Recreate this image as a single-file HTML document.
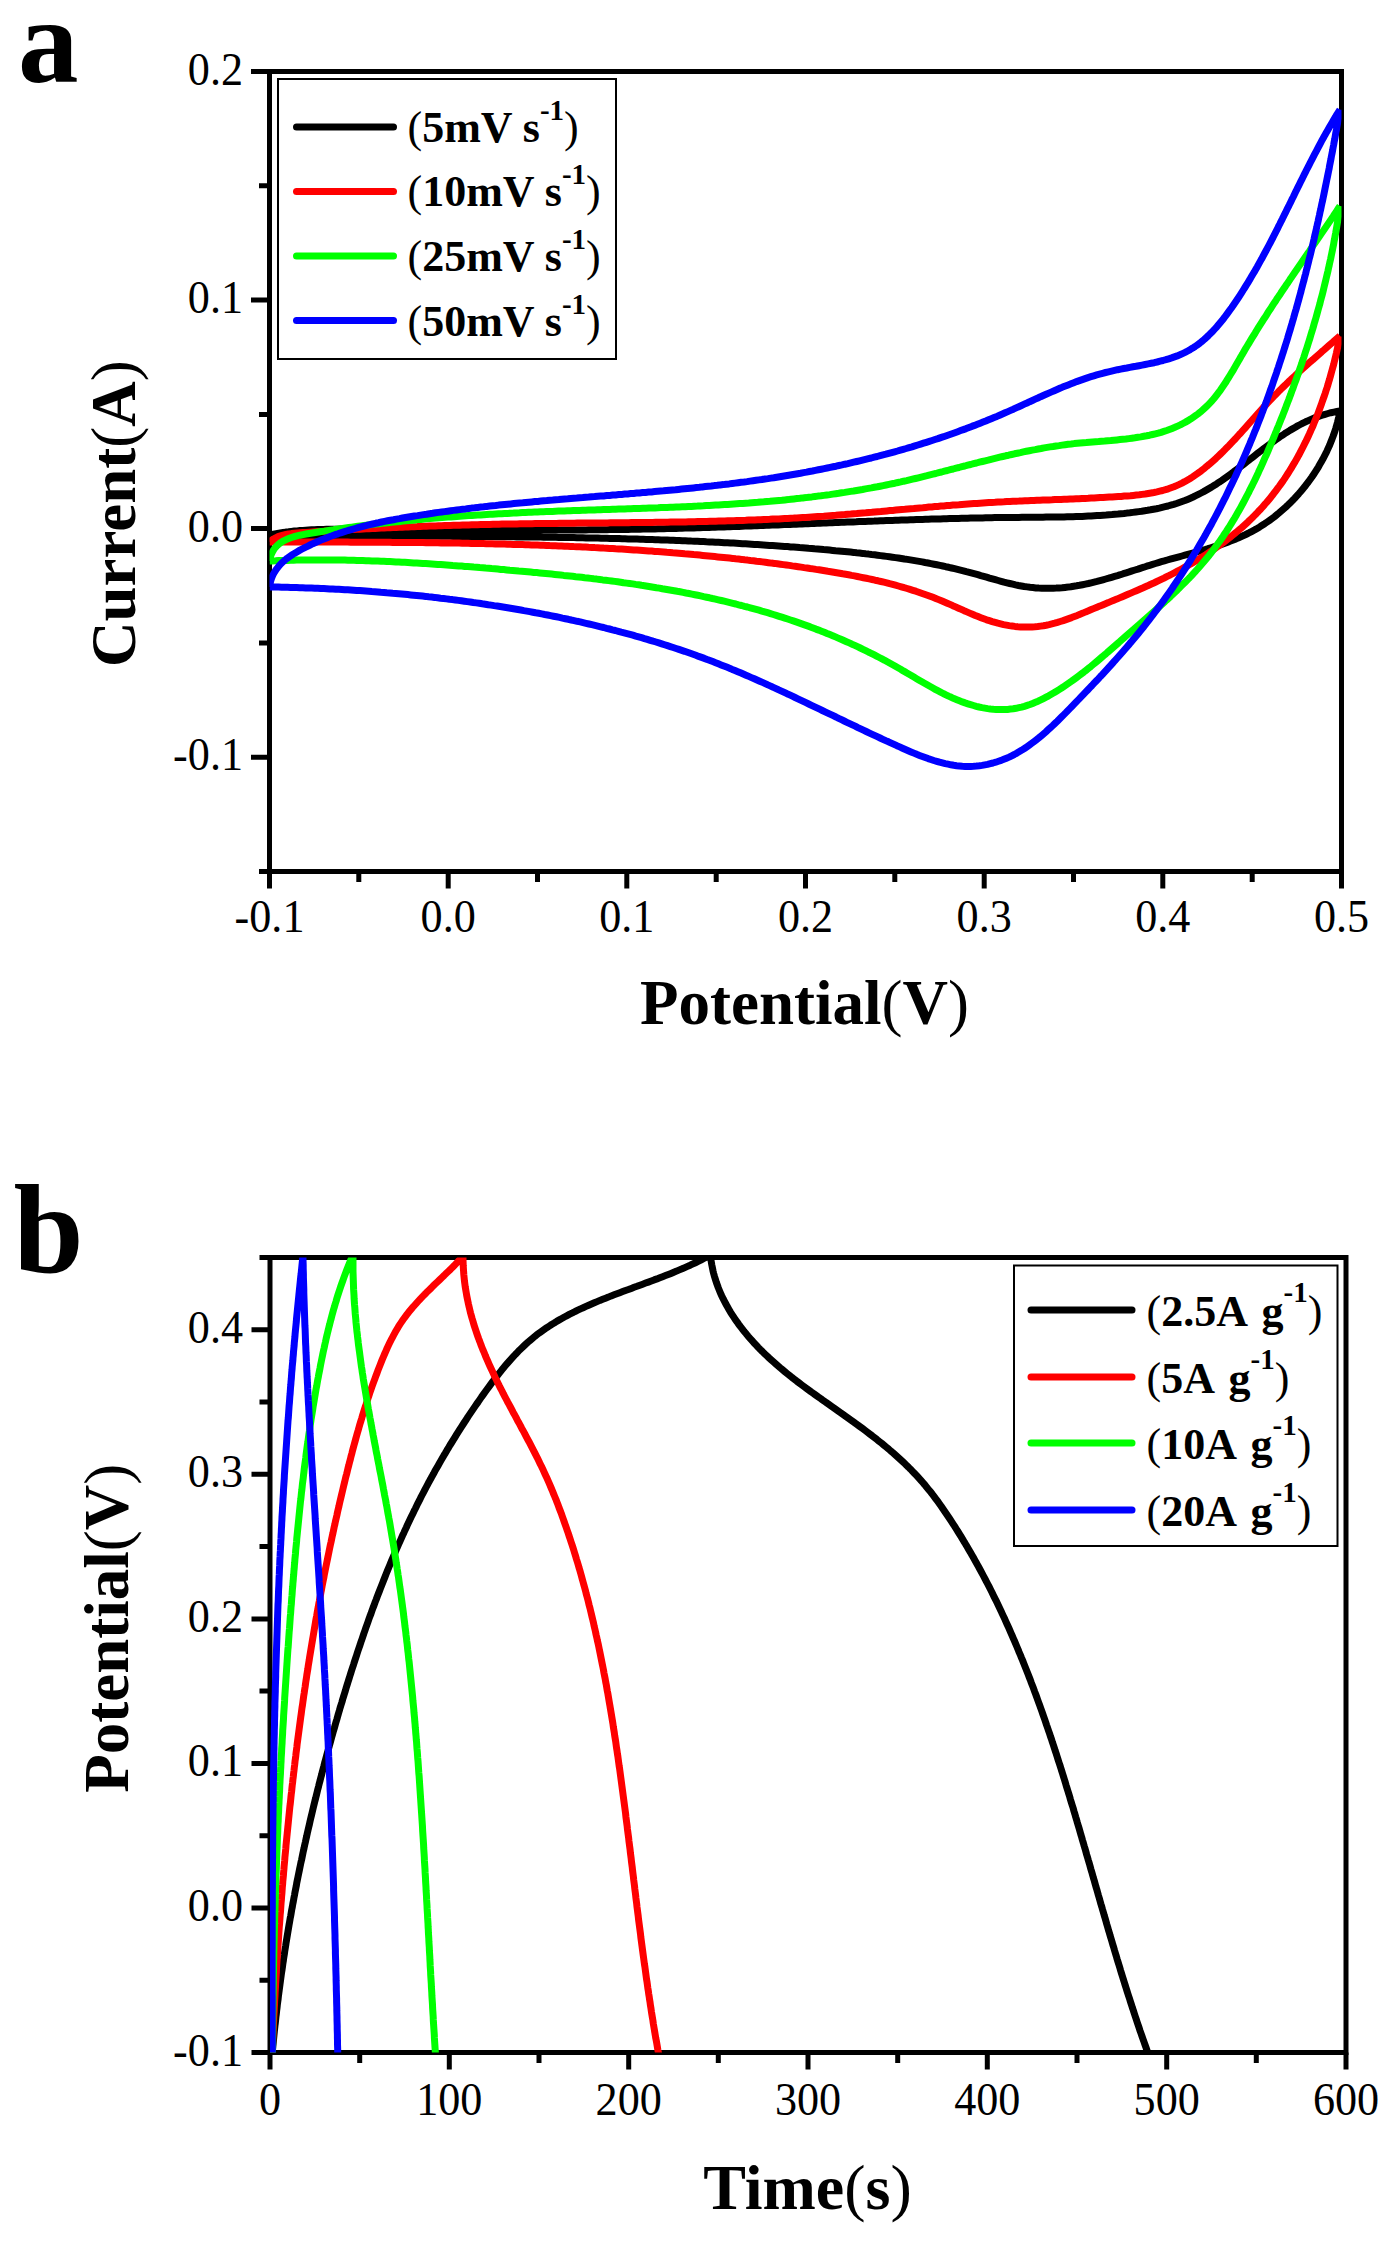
<!DOCTYPE html>
<html><head><meta charset="utf-8"><style>
html,body{margin:0;padding:0;background:#fff;}
svg{display:block;}
text{font-family:"Liberation Serif",serif;}
.tl{font-size:46px;}
.bt{font-weight:bold;}
</style></head><body>
<svg width="1394" height="2243" viewBox="0 0 1394 2243">
<rect width="1394" height="2243" fill="#fff"/>
<g id="pa">
<rect x="269.5" y="71.5" width="1072.0" height="800.0" fill="none" stroke="#000" stroke-width="5"/>
<path d="M251.0,71.5H269.5 M259.0,185.8H269.5 M251.0,300.1H269.5 M259.0,414.4H269.5 M251.0,528.6H269.5 M259.0,642.9H269.5 M251.0,757.2H269.5 M259.0,871.5H269.5 M269.5,871.5V888.5 M358.8,871.5V882.0 M448.2,871.5V888.5 M537.5,871.5V882.0 M626.8,871.5V888.5 M716.2,871.5V882.0 M805.5,871.5V888.5 M894.8,871.5V882.0 M984.2,871.5V888.5 M1073.5,871.5V882.0 M1162.8,871.5V888.5 M1252.2,871.5V882.0 M1341.5,871.5V888.5" stroke="#000" stroke-width="5" fill="none"/>
<text class="tl" transform="translate(243,84.5) scale(0.96,1)" text-anchor="end">0.2</text>
<text class="tl" transform="translate(243,313.1) scale(0.96,1)" text-anchor="end">0.1</text>
<text class="tl" transform="translate(243,541.6) scale(0.96,1)" text-anchor="end">0.0</text>
<text class="tl" transform="translate(243,770.2) scale(0.96,1)" text-anchor="end">-0.1</text>
<text class="tl" transform="translate(269.5,932) scale(0.96,1)" text-anchor="middle">-0.1</text>
<text class="tl" transform="translate(448.2,932) scale(0.96,1)" text-anchor="middle">0.0</text>
<text class="tl" transform="translate(626.8,932) scale(0.96,1)" text-anchor="middle">0.1</text>
<text class="tl" transform="translate(805.5,932) scale(0.96,1)" text-anchor="middle">0.2</text>
<text class="tl" transform="translate(984.2,932) scale(0.96,1)" text-anchor="middle">0.3</text>
<text class="tl" transform="translate(1162.8,932) scale(0.96,1)" text-anchor="middle">0.4</text>
<text class="tl" transform="translate(1341.5,932) scale(0.96,1)" text-anchor="middle">0.5</text>
<clipPath id="ca"><rect x="269.5" y="71.5" width="1072.0" height="800.0"/></clipPath>
<path d="M269.5,535.0L272.1,534.4L274.8,533.9L277.5,533.4L280.2,532.9L283.0,532.5L285.8,532.1L288.6,531.8L291.4,531.4L294.2,531.1L297.1,530.9L299.9,530.6L302.8,530.4L305.7,530.2L308.6,530.0L311.6,529.8L314.5,529.7L317.5,529.6L320.4,529.5L323.4,529.4L326.4,529.3L329.4,529.3L332.4,529.2L335.4,529.2L338.4,529.2L341.4,529.1L344.4,529.1L347.5,529.1L350.5,529.1L353.5,529.1L356.6,529.2L359.6,529.2L362.6,529.2L365.7,529.2L368.7,529.2L371.7,529.2L374.8,529.3L377.8,529.3L380.8,529.3L383.9,529.3L386.9,529.3L389.9,529.4L393.0,529.4L396.0,529.4L399.0,529.4L402.0,529.4L405.1,529.5L408.1,529.5L411.1,529.5L414.2,529.5L417.2,529.5L420.2,529.6L423.2,529.6L426.3,529.6L429.3,529.6L432.3,529.6L435.3,529.7L438.3,529.7L441.4,529.7L444.4,529.7L447.4,529.7L450.4,529.8L453.4,529.8L456.5,529.8L459.5,529.8L462.5,529.8L465.5,529.8L468.5,529.9L471.5,529.9L474.6,529.9L477.6,529.9L480.6,529.9L483.6,529.9L486.6,529.9L489.6,530.0L492.7,530.0L495.7,530.0L498.7,530.0L501.7,530.0L504.7,530.0L507.7,530.0L510.7,530.0L513.7,530.0L516.8,530.0L519.8,530.0L522.8,530.1L525.8,530.1L528.8,530.1L531.8,530.1L534.8,530.1L537.8,530.1L540.8,530.1L543.8,530.0L546.8,530.0L549.9,530.0L552.9,530.0L555.9,530.0L558.9,530.0L561.9,530.0L564.9,530.0L567.9,530.0L570.9,530.0L573.9,529.9L576.9,529.9L579.9,529.9L582.9,529.9L585.9,529.9L588.9,529.8L591.9,529.8L594.9,529.8L597.9,529.8L600.9,529.7L604.0,529.7L607.0,529.7L610.0,529.6L613.0,529.6L616.0,529.6L619.0,529.5L622.0,529.5L625.0,529.4L628.0,529.4L631.0,529.3L634.0,529.3L637.0,529.2L640.0,529.2L643.0,529.1L646.0,529.1L649.0,529.0L652.0,528.9L655.0,528.9L658.0,528.8L661.0,528.7L664.0,528.7L667.0,528.6L670.0,528.5L673.0,528.5L676.0,528.4L679.0,528.3L682.0,528.2L685.0,528.1L688.0,528.0L691.0,528.0L694.0,527.9L697.0,527.8L700.0,527.7L703.0,527.6L706.0,527.5L709.0,527.4L712.0,527.3L715.0,527.2L718.0,527.1L721.0,527.0L724.1,526.9L727.1,526.8L730.1,526.7L733.1,526.6L736.1,526.5L739.1,526.4L742.1,526.3L745.1,526.1L748.1,526.0L751.1,525.9L754.1,525.8L757.1,525.7L760.1,525.6L763.1,525.5L766.1,525.3L769.1,525.2L772.1,525.1L775.1,525.0L778.1,524.9L781.1,524.8L784.1,524.6L787.1,524.5L790.1,524.4L793.1,524.3L796.1,524.2L799.1,524.0L802.1,523.9L805.1,523.8L808.1,523.7L811.1,523.6L814.1,523.4L817.1,523.3L820.1,523.2L823.1,523.1L826.2,522.9L829.2,522.8L832.2,522.7L835.2,522.6L838.2,522.5L841.2,522.3L844.2,522.2L847.2,522.1L850.2,522.0L853.2,521.9L856.2,521.8L859.2,521.6L862.2,521.5L865.2,521.4L868.2,521.3L871.2,521.2L874.2,521.1L877.3,520.9L880.3,520.8L883.3,520.7L886.3,520.6L889.3,520.5L892.3,520.4L895.3,520.3L898.3,520.2L901.3,520.1L904.3,520.0L907.3,519.9L910.3,519.8L913.4,519.7L916.4,519.6L919.4,519.5L922.4,519.4L925.4,519.3L928.4,519.2L931.4,519.1L934.4,519.0L937.4,518.9L940.4,518.9L943.5,518.8L946.5,518.7L949.5,518.6L952.5,518.5L955.5,518.5L958.5,518.4L961.5,518.3L964.5,518.2L967.6,518.2L970.6,518.1L973.6,518.0L976.6,518.0L979.6,517.9L982.6,517.9L985.6,517.8L988.7,517.7L991.7,517.7L994.7,517.6L997.7,517.6L1000.7,517.6L1003.7,517.5L1006.8,517.5L1009.8,517.4L1012.8,517.4L1015.8,517.4L1018.8,517.4L1021.9,517.3L1024.9,517.3L1027.9,517.3L1030.9,517.3L1033.9,517.2L1036.9,517.2L1040.0,517.2L1043.0,517.2L1046.0,517.1L1049.0,517.1L1052.0,517.1L1055.0,517.0L1058.1,517.0L1061.1,516.9L1064.1,516.9L1067.1,516.8L1070.1,516.7L1073.1,516.7L1076.1,516.6L1079.1,516.5L1082.1,516.4L1085.1,516.2L1088.1,516.1L1091.1,516.0L1094.1,515.8L1097.1,515.6L1100.1,515.5L1103.1,515.3L1106.1,515.1L1109.1,514.8L1112.1,514.6L1115.0,514.3L1118.0,514.1L1121.0,513.8L1124.0,513.5L1126.9,513.1L1129.9,512.8L1132.9,512.4L1135.8,512.0L1138.8,511.6L1141.7,511.2L1144.7,510.7L1147.6,510.3L1150.5,509.8L1153.5,509.2L1156.4,508.7L1159.3,508.1L1162.2,507.4L1165.1,506.7L1168.0,506.0L1170.8,505.2L1173.7,504.4L1176.5,503.5L1179.3,502.5L1182.1,501.5L1184.9,500.5L1187.6,499.4L1190.4,498.2L1193.1,497.0L1195.8,495.7L1198.4,494.4L1201.1,493.0L1203.7,491.6L1206.3,490.1L1208.9,488.6L1211.5,487.1L1214.0,485.5L1216.6,483.9L1219.1,482.2L1221.6,480.6L1224.0,478.9L1226.5,477.1L1229.0,475.3L1231.4,473.6L1233.8,471.7L1236.3,469.9L1238.7,468.1L1241.1,466.2L1243.5,464.4L1245.9,462.5L1248.3,460.6L1250.7,458.8L1253.1,456.9L1255.5,455.0L1257.9,453.1L1260.3,451.3L1262.7,449.4L1265.2,447.6L1267.6,445.8L1270.0,444.0L1272.5,442.2L1274.9,440.4L1277.4,438.7L1279.8,436.9L1282.3,435.3L1284.8,433.6L1287.4,432.0L1289.9,430.4L1292.5,428.9L1295.0,427.4L1297.6,425.9L1300.3,424.5L1302.9,423.1L1305.6,421.8L1308.3,420.6L1311.0,419.4L1313.8,418.2L1316.5,417.1L1319.3,416.1L1322.2,415.2L1325.1,414.3L1328.0,413.5L1330.9,412.7L1333.9,412.1L1336.9,411.5L1340.0,411.0 M1340.0,411.0L1339.4,413.9L1338.8,416.8L1338.1,419.7L1337.4,422.6L1336.6,425.4L1335.8,428.3L1334.9,431.1L1333.9,434.0L1332.9,436.8L1331.8,439.6L1330.7,442.4L1329.6,445.2L1328.3,448.0L1327.1,450.7L1325.8,453.4L1324.4,456.1L1323.0,458.8L1321.5,461.5L1320.0,464.1L1318.5,466.8L1316.9,469.4L1315.3,471.9L1313.6,474.5L1311.9,477.0L1310.1,479.5L1308.3,482.0L1306.4,484.4L1304.6,486.8L1302.6,489.2L1300.7,491.5L1298.7,493.8L1296.6,496.1L1294.6,498.3L1292.5,500.5L1290.3,502.7L1288.2,504.8L1286.0,506.9L1283.7,508.9L1281.4,510.9L1279.1,512.9L1276.8,514.8L1274.5,516.7L1272.1,518.5L1269.6,520.3L1267.2,522.0L1264.7,523.7L1262.2,525.3L1259.7,526.9L1257.2,528.4L1254.6,529.9L1252.0,531.3L1249.4,532.7L1246.8,534.0L1244.1,535.3L1241.4,536.5L1238.7,537.7L1236.0,538.9L1233.3,540.0L1230.5,541.1L1227.8,542.1L1225.0,543.1L1222.2,544.1L1219.4,545.1L1216.6,546.0L1213.7,546.9L1210.9,547.8L1208.0,548.7L1205.2,549.5L1202.3,550.4L1199.4,551.2L1196.5,552.0L1193.6,552.8L1190.7,553.6L1187.8,554.4L1184.9,555.2L1182.0,556.0L1179.0,556.8L1176.1,557.6L1173.2,558.4L1170.2,559.2L1167.3,560.0L1164.3,560.9L1161.4,561.7L1158.5,562.6L1155.5,563.5L1152.6,564.4L1149.7,565.3L1146.7,566.2L1143.8,567.2L1140.9,568.1L1138.0,569.1L1135.0,570.0L1132.1,570.9L1129.2,571.9L1126.2,572.8L1123.3,573.7L1120.4,574.7L1117.5,575.6L1114.6,576.4L1111.6,577.3L1108.7,578.2L1105.8,579.0L1102.9,579.8L1100.0,580.6L1097.0,581.4L1094.1,582.1L1091.2,582.8L1088.3,583.5L1085.4,584.1L1082.5,584.7L1079.5,585.3L1076.6,585.8L1073.7,586.2L1070.8,586.7L1067.9,587.1L1065.0,587.4L1062.0,587.7L1059.1,587.9L1056.2,588.1L1053.3,588.2L1050.4,588.3L1047.5,588.3L1044.6,588.3L1041.7,588.2L1038.8,588.1L1035.8,587.9L1032.9,587.6L1030.0,587.3L1027.1,586.9L1024.2,586.5L1021.3,586.0L1018.5,585.5L1015.6,584.9L1012.7,584.2L1009.8,583.5L1006.9,582.8L1004.0,582.1L1001.1,581.3L998.2,580.5L995.3,579.7L992.4,578.9L989.5,578.1L986.6,577.2L983.7,576.4L980.8,575.6L977.9,574.7L975.0,573.9L972.1,573.1L969.2,572.3L966.3,571.6L963.4,570.8L960.4,570.1L957.5,569.4L954.6,568.7L951.6,568.0L948.7,567.3L945.8,566.7L942.8,566.0L939.9,565.4L936.9,564.8L934.0,564.2L931.0,563.6L928.1,563.0L925.1,562.5L922.2,561.9L919.2,561.4L916.2,560.9L913.3,560.4L910.3,559.9L907.3,559.4L904.4,559.0L901.4,558.5L898.4,558.0L895.4,557.6L892.5,557.2L889.5,556.8L886.5,556.4L883.5,556.0L880.5,555.6L877.5,555.2L874.6,554.8L871.6,554.5L868.6,554.1L865.6,553.8L862.6,553.4L859.6,553.1L856.6,552.8L853.6,552.4L850.6,552.1L847.6,551.8L844.6,551.5L841.6,551.2L838.6,550.9L835.6,550.7L832.6,550.4L829.6,550.1L826.6,549.8L823.6,549.6L820.6,549.3L817.6,549.0L814.6,548.8L811.6,548.5L808.6,548.3L805.6,548.0L802.6,547.8L799.6,547.6L796.6,547.3L793.6,547.1L790.6,546.9L787.6,546.6L784.6,546.4L781.6,546.2L778.6,546.0L775.6,545.8L772.6,545.6L769.6,545.4L766.5,545.2L763.5,545.0L760.5,544.8L757.5,544.6L754.5,544.4L751.5,544.2L748.5,544.0L745.5,543.8L742.5,543.7L739.5,543.5L736.5,543.3L733.5,543.1L730.5,543.0L727.5,542.8L724.4,542.7L721.4,542.5L718.4,542.3L715.4,542.2L712.4,542.0L709.4,541.9L706.4,541.8L703.4,541.6L700.4,541.5L697.4,541.3L694.4,541.2L691.3,541.1L688.3,540.9L685.3,540.8L682.3,540.7L679.3,540.6L676.3,540.5L673.3,540.3L670.3,540.2L667.3,540.1L664.2,540.0L661.2,539.9L658.2,539.8L655.2,539.7L652.2,539.6L649.2,539.5L646.2,539.4L643.2,539.3L640.1,539.2L637.1,539.1L634.1,539.0L631.1,538.9L628.1,538.9L625.1,538.8L622.1,538.7L619.1,538.6L616.0,538.5L613.0,538.5L610.0,538.4L607.0,538.3L604.0,538.2L601.0,538.2L598.0,538.1L594.9,538.0L591.9,538.0L588.9,537.9L585.9,537.9L582.9,537.8L579.9,537.7L576.9,537.7L573.9,537.6L570.8,537.6L567.8,537.5L564.8,537.5L561.8,537.4L558.8,537.4L555.8,537.3L552.7,537.3L549.7,537.3L546.7,537.2L543.7,537.2L540.7,537.1L537.7,537.1L534.7,537.1L531.6,537.0L528.6,537.0L525.6,536.9L522.6,536.9L519.6,536.9L516.6,536.9L513.6,536.8L510.5,536.8L507.5,536.8L504.5,536.7L501.5,536.7L498.5,536.7L495.5,536.7L492.5,536.6L489.4,536.6L486.4,536.6L483.4,536.6L480.4,536.5L477.4,536.5L474.4,536.5L471.3,536.5L468.3,536.5L465.3,536.4L462.3,536.4L459.3,536.4L456.3,536.4L453.3,536.4L450.2,536.3L447.2,536.3L444.2,536.3L441.2,536.3L438.2,536.3L435.2,536.3L432.2,536.3L429.1,536.2L426.1,536.2L423.1,536.2L420.1,536.2L417.1,536.2L414.1,536.2L411.1,536.1L408.0,536.1L405.0,536.1L402.0,536.1L399.0,536.1L396.0,536.1L393.0,536.1L390.0,536.0L386.9,536.0L383.9,536.0L380.9,536.0L377.9,536.0L374.9,536.0L371.9,535.9L368.9,535.9L365.9,535.9L362.8,535.9L359.8,535.9L356.8,535.9L353.8,535.8L350.8,535.8L347.8,535.8L344.8,535.8L341.8,535.8L338.7,535.7L335.7,535.7L332.7,535.7L329.7,535.7L326.7,535.6L323.7,535.6L320.7,535.6L317.7,535.6L314.6,535.5L311.6,535.5L308.6,535.5L305.6,535.4L302.6,535.4L299.6,535.4L296.6,535.3L293.6,535.3L290.6,535.3L287.6,535.2L284.5,535.2L281.5,535.2L278.5,535.1L275.5,535.1L272.5,535.0L269.5,535.0" fill="none" stroke="#000" stroke-width="7" stroke-linejoin="round" stroke-linecap="butt" clip-path="url(#ca)"/>
<path d="M269.5,542.0L271.4,540.4L273.5,539.0L275.7,537.8L278.0,536.7L280.5,535.9L283.1,535.1L285.8,534.5L288.5,534.0L291.4,533.6L294.2,533.3L297.2,533.0L300.1,532.8L303.1,532.6L306.1,532.4L309.1,532.2L312.1,532.0L315.0,531.8L318.0,531.6L321.0,531.4L324.0,531.2L327.0,531.0L330.0,530.9L333.0,530.7L336.0,530.5L339.0,530.3L342.0,530.2L345.0,530.0L348.0,529.8L351.0,529.6L354.0,529.5L357.0,529.3L360.0,529.2L363.0,529.0L366.0,528.8L369.0,528.7L372.0,528.5L375.1,528.4L378.1,528.3L381.1,528.1L384.1,528.0L387.1,527.8L390.1,527.7L393.1,527.6L396.2,527.4L399.2,527.3L402.2,527.2L405.2,527.0L408.2,526.9L411.2,526.8L414.3,526.7L417.3,526.6L420.3,526.4L423.3,526.3L426.3,526.2L429.4,526.1L432.4,526.0L435.4,525.9L438.4,525.8L441.5,525.7L444.5,525.6L447.5,525.5L450.5,525.4L453.5,525.3L456.6,525.2L459.6,525.2L462.6,525.1L465.6,525.0L468.7,524.9L471.7,524.8L474.7,524.7L477.7,524.7L480.8,524.6L483.8,524.5L486.8,524.5L489.8,524.4L492.9,524.3L495.9,524.3L498.9,524.2L501.9,524.1L504.9,524.1L508.0,524.0L511.0,524.0L514.0,523.9L517.0,523.9L520.0,523.8L523.1,523.8L526.1,523.7L529.1,523.7L532.1,523.7L535.1,523.6L538.1,523.6L541.2,523.5L544.2,523.5L547.2,523.5L550.2,523.4L553.2,523.4L556.2,523.4L559.3,523.3L562.3,523.3L565.3,523.3L568.3,523.2L571.3,523.2L574.3,523.2L577.3,523.1L580.3,523.1L583.4,523.1L586.4,523.1L589.4,523.0L592.4,523.0L595.4,523.0L598.4,522.9L601.4,522.9L604.4,522.9L607.4,522.9L610.5,522.8L613.5,522.8L616.5,522.8L619.5,522.8L622.5,522.7L625.5,522.7L628.5,522.7L631.5,522.6L634.5,522.6L637.5,522.6L640.5,522.5L643.6,522.5L646.6,522.5L649.6,522.4L652.6,522.4L655.6,522.3L658.6,522.3L661.6,522.3L664.6,522.2L667.6,522.2L670.6,522.1L673.6,522.1L676.6,522.0L679.6,522.0L682.6,521.9L685.6,521.9L688.6,521.8L691.6,521.7L694.6,521.7L697.7,521.6L700.7,521.5L703.7,521.5L706.7,521.4L709.7,521.3L712.7,521.3L715.7,521.2L718.7,521.1L721.7,521.0L724.7,520.9L727.7,520.8L730.7,520.8L733.7,520.7L736.7,520.6L739.7,520.5L742.7,520.4L745.7,520.3L748.7,520.1L751.7,520.0L754.7,519.9L757.7,519.8L760.7,519.7L763.7,519.5L766.7,519.4L769.7,519.3L772.7,519.1L775.7,519.0L778.7,518.9L781.7,518.7L784.7,518.5L787.7,518.4L790.7,518.2L793.7,518.1L796.7,517.9L799.7,517.7L802.7,517.5L805.7,517.4L808.7,517.2L811.8,517.0L814.8,516.8L817.8,516.6L820.8,516.4L823.8,516.2L826.8,515.9L829.8,515.7L832.8,515.5L835.8,515.3L838.8,515.0L841.8,514.8L844.8,514.6L847.8,514.3L850.8,514.1L853.8,513.8L856.8,513.6L859.8,513.3L862.8,513.0L865.8,512.8L868.8,512.5L871.8,512.3L874.8,512.0L877.8,511.7L880.8,511.5L883.8,511.2L886.8,510.9L889.8,510.6L892.8,510.4L895.8,510.1L898.8,509.8L901.8,509.5L904.8,509.3L907.8,509.0L910.8,508.7L913.8,508.5L916.8,508.2L919.8,507.9L922.8,507.7L925.8,507.4L928.8,507.1L931.8,506.9L934.8,506.6L937.8,506.4L940.8,506.1L943.8,505.9L946.9,505.6L949.9,505.4L952.9,505.1L955.9,504.9L958.9,504.7L961.9,504.4L964.9,504.2L967.9,504.0L970.9,503.8L973.9,503.6L976.9,503.4L979.9,503.2L982.9,503.0L985.9,502.8L988.9,502.6L991.9,502.4L994.9,502.3L997.9,502.1L1000.9,501.9L1003.9,501.8L1006.9,501.6L1009.9,501.5L1012.9,501.3L1015.9,501.2L1018.9,501.1L1021.9,500.9L1024.9,500.8L1027.9,500.7L1030.9,500.6L1033.9,500.5L1036.9,500.3L1039.9,500.2L1042.9,500.1L1045.9,500.0L1049.0,499.9L1052.0,499.8L1055.0,499.6L1058.0,499.5L1061.0,499.4L1064.0,499.3L1067.0,499.2L1070.0,499.0L1073.0,498.9L1076.0,498.8L1079.0,498.7L1082.0,498.5L1085.0,498.4L1088.1,498.3L1091.1,498.1L1094.1,498.0L1097.1,497.8L1100.1,497.6L1103.1,497.5L1106.1,497.3L1109.2,497.1L1112.2,497.0L1115.2,496.8L1118.2,496.6L1121.2,496.4L1124.2,496.1L1127.3,495.9L1130.3,495.7L1133.3,495.4L1136.3,495.1L1139.3,494.8L1142.2,494.4L1145.2,494.0L1148.2,493.5L1151.1,493.0L1154.0,492.5L1156.9,491.9L1159.8,491.2L1162.7,490.5L1165.5,489.7L1168.3,488.8L1171.1,487.8L1173.9,486.8L1176.6,485.6L1179.3,484.4L1182.0,483.1L1184.6,481.7L1187.2,480.2L1189.8,478.7L1192.3,477.1L1194.8,475.4L1197.3,473.7L1199.8,471.9L1202.2,470.0L1204.6,468.2L1206.9,466.2L1209.2,464.3L1211.5,462.3L1213.8,460.3L1216.0,458.3L1218.2,456.2L1220.4,454.1L1222.6,452.0L1224.7,449.9L1226.8,447.7L1228.9,445.6L1231.0,443.4L1233.1,441.2L1235.2,439.0L1237.2,436.7L1239.2,434.5L1241.3,432.3L1243.3,430.0L1245.3,427.8L1247.3,425.5L1249.3,423.2L1251.3,421.0L1253.3,418.7L1255.3,416.5L1257.3,414.2L1259.3,412.0L1261.3,409.8L1263.3,407.5L1265.4,405.3L1267.4,403.1L1269.5,400.9L1271.5,398.8L1273.6,396.6L1275.7,394.5L1277.8,392.4L1279.9,390.2L1282.0,388.1L1284.1,386.1L1286.3,384.0L1288.4,381.9L1290.6,379.9L1292.8,377.8L1295.0,375.8L1297.1,373.8L1299.3,371.7L1301.5,369.7L1303.8,367.7L1306.0,365.7L1308.2,363.7L1310.4,361.7L1312.7,359.8L1314.9,357.8L1317.2,355.8L1319.5,353.8L1321.7,351.8L1324.0,349.9L1326.3,347.9L1328.5,345.9L1330.8,343.9L1333.1,342.0L1335.4,340.0L1337.7,338.0L1340.0,336.0 M1340.0,336.0L1339.4,338.8L1338.9,341.7L1338.3,344.5L1337.7,347.4L1337.0,350.3L1336.4,353.1L1335.7,356.0L1335.0,358.9L1334.3,361.8L1333.6,364.7L1332.8,367.5L1332.0,370.4L1331.2,373.3L1330.4,376.2L1329.6,379.1L1328.7,382.0L1327.9,384.9L1327.0,387.8L1326.0,390.7L1325.1,393.6L1324.1,396.5L1323.1,399.3L1322.1,402.2L1321.1,405.1L1320.0,408.0L1319.0,410.8L1317.9,413.7L1316.8,416.5L1315.6,419.4L1314.4,422.2L1313.3,425.0L1312.1,427.8L1310.8,430.6L1309.6,433.4L1308.3,436.2L1307.0,439.0L1305.7,441.7L1304.3,444.4L1302.9,447.2L1301.5,449.9L1300.1,452.6L1298.7,455.3L1297.2,457.9L1295.7,460.6L1294.2,463.2L1292.6,465.8L1291.1,468.4L1289.5,471.0L1287.9,473.5L1286.2,476.1L1284.6,478.6L1282.9,481.1L1281.1,483.6L1279.4,486.0L1277.6,488.4L1275.8,490.8L1274.0,493.2L1272.2,495.6L1270.3,497.9L1268.4,500.2L1266.5,502.5L1264.5,504.7L1262.6,507.0L1260.6,509.2L1258.5,511.3L1256.5,513.5L1254.4,515.6L1252.3,517.7L1250.2,519.7L1248.1,521.8L1245.9,523.8L1243.7,525.8L1241.5,527.8L1239.3,529.7L1237.0,531.6L1234.7,533.5L1232.4,535.4L1230.1,537.3L1227.8,539.1L1225.4,540.9L1223.1,542.7L1220.7,544.5L1218.2,546.2L1215.8,547.9L1213.4,549.6L1210.9,551.3L1208.4,552.9L1205.9,554.6L1203.4,556.2L1200.9,557.8L1198.3,559.4L1195.8,560.9L1193.2,562.4L1190.6,564.0L1188.0,565.4L1185.4,566.9L1182.8,568.4L1180.1,569.8L1177.5,571.2L1174.8,572.6L1172.1,574.0L1169.4,575.4L1166.7,576.7L1164.0,578.1L1161.3,579.4L1158.6,580.7L1155.8,582.0L1153.1,583.3L1150.3,584.5L1147.6,585.8L1144.8,587.0L1142.0,588.3L1139.2,589.5L1136.4,590.7L1133.6,591.9L1130.8,593.1L1128.0,594.3L1125.2,595.5L1122.4,596.7L1119.6,597.9L1116.8,599.1L1113.9,600.2L1111.1,601.4L1108.3,602.6L1105.5,603.7L1102.6,604.9L1099.8,606.1L1097.0,607.2L1094.2,608.4L1091.3,609.6L1088.5,610.8L1085.7,611.9L1082.9,613.1L1080.1,614.2L1077.3,615.4L1074.4,616.5L1071.6,617.6L1068.8,618.6L1066.0,619.6L1063.2,620.6L1060.3,621.5L1057.5,622.4L1054.7,623.2L1051.9,623.9L1049.1,624.6L1046.2,625.2L1043.4,625.7L1040.6,626.1L1037.7,626.5L1034.9,626.8L1032.0,627.0L1029.2,627.1L1026.3,627.1L1023.5,627.0L1020.6,626.9L1017.8,626.7L1014.9,626.4L1012.1,626.0L1009.2,625.6L1006.4,625.1L1003.6,624.6L1000.7,623.9L997.9,623.2L995.1,622.4L992.2,621.6L989.4,620.7L986.6,619.8L983.8,618.8L980.9,617.7L978.1,616.6L975.3,615.5L972.5,614.3L969.7,613.1L966.9,611.9L964.1,610.7L961.3,609.4L958.5,608.2L955.6,606.9L952.8,605.7L950.0,604.4L947.2,603.2L944.4,602.0L941.5,600.8L938.7,599.6L935.8,598.4L933.0,597.3L930.1,596.2L927.3,595.2L924.4,594.2L921.5,593.2L918.7,592.2L915.8,591.2L912.9,590.3L910.0,589.4L907.1,588.5L904.2,587.7L901.3,586.8L898.4,586.0L895.5,585.2L892.6,584.4L889.7,583.7L886.8,582.9L883.9,582.2L880.9,581.5L878.0,580.8L875.1,580.2L872.1,579.5L869.2,578.9L866.3,578.3L863.3,577.7L860.4,577.1L857.4,576.5L854.5,575.9L851.5,575.4L848.6,574.8L845.6,574.3L842.7,573.8L839.7,573.2L836.7,572.7L833.8,572.2L830.8,571.7L827.9,571.3L824.9,570.8L821.9,570.3L819.0,569.8L816.0,569.4L813.0,568.9L810.1,568.5L807.1,568.0L804.1,567.6L801.1,567.1L798.2,566.7L795.2,566.3L792.2,565.9L789.3,565.4L786.3,565.0L783.3,564.6L780.3,564.2L777.3,563.8L774.4,563.4L771.4,563.1L768.4,562.7L765.4,562.3L762.5,561.9L759.5,561.5L756.5,561.2L753.5,560.8L750.5,560.5L747.5,560.1L744.6,559.8L741.6,559.4L738.6,559.1L735.6,558.8L732.6,558.4L729.6,558.1L726.6,557.8L723.7,557.5L720.7,557.2L717.7,556.9L714.7,556.6L711.7,556.3L708.7,556.0L705.7,555.7L702.7,555.4L699.7,555.1L696.7,554.8L693.7,554.6L690.7,554.3L687.7,554.0L684.7,553.8L681.8,553.5L678.8,553.2L675.8,553.0L672.8,552.8L669.8,552.5L666.8,552.3L663.8,552.0L660.8,551.8L657.8,551.6L654.8,551.4L651.8,551.1L648.8,550.9L645.8,550.7L642.8,550.5L639.8,550.3L636.8,550.1L633.8,549.9L630.7,549.7L627.7,549.5L624.7,549.3L621.7,549.1L618.7,548.9L615.7,548.8L612.7,548.6L609.7,548.4L606.7,548.2L603.7,548.1L600.7,547.9L597.7,547.7L594.7,547.6L591.7,547.4L588.7,547.3L585.7,547.1L582.6,547.0L579.6,546.8L576.6,546.7L573.6,546.6L570.6,546.4L567.6,546.3L564.6,546.2L561.6,546.0L558.6,545.9L555.5,545.8L552.5,545.7L549.5,545.6L546.5,545.4L543.5,545.3L540.5,545.2L537.5,545.1L534.5,545.0L531.5,544.9L528.4,544.8L525.4,544.7L522.4,544.6L519.4,544.5L516.4,544.5L513.4,544.4L510.4,544.3L507.3,544.2L504.3,544.1L501.3,544.0L498.3,544.0L495.3,543.9L492.3,543.8L489.3,543.7L486.2,543.7L483.2,543.6L480.2,543.5L477.2,543.5L474.2,543.4L471.2,543.4L468.2,543.3L465.1,543.2L462.1,543.2L459.1,543.1L456.1,543.1L453.1,543.0L450.1,543.0L447.1,543.0L444.0,542.9L441.0,542.9L438.0,542.8L435.0,542.8L432.0,542.7L429.0,542.7L426.0,542.7L422.9,542.6L419.9,542.6L416.9,542.6L413.9,542.5L410.9,542.5L407.9,542.5L404.9,542.5L401.9,542.4L398.8,542.4L395.8,542.4L392.8,542.4L389.8,542.3L386.8,542.3L383.8,542.3L380.8,542.3L377.8,542.3L374.7,542.3L371.7,542.2L368.7,542.2L365.7,542.2L362.7,542.2L359.7,542.2L356.7,542.2L353.7,542.2L350.7,542.2L347.6,542.1L344.6,542.1L341.6,542.1L338.6,542.1L335.6,542.1L332.6,542.1L329.6,542.1L326.6,542.1L323.6,542.1L320.6,542.1L317.6,542.1L314.6,542.1L311.5,542.1L308.5,542.1L305.5,542.1L302.5,542.0L299.5,542.0L296.5,542.0L293.5,542.0L290.5,542.0L287.5,542.0L284.5,542.0L281.5,542.0L278.5,542.0L275.5,542.0L272.5,542.0L269.5,542.0" fill="none" stroke="#ff0000" stroke-width="7" stroke-linejoin="round" stroke-linecap="butt" clip-path="url(#ca)"/>
<path d="M269.5,561.0L270.2,557.8L271.1,554.8L272.3,552.2L273.7,549.7L275.3,547.5L277.1,545.6L279.1,543.8L281.3,542.2L283.6,540.8L286.1,539.6L288.7,538.5L291.4,537.5L294.2,536.7L297.0,535.9L300.0,535.2L303.0,534.6L306.0,534.0L309.0,533.5L312.1,533.0L315.2,532.5L318.2,532.0L321.3,531.5L324.3,531.1L327.4,530.6L330.4,530.1L333.5,529.7L336.5,529.2L339.6,528.8L342.6,528.4L345.6,527.9L348.7,527.5L351.7,527.1L354.7,526.7L357.8,526.3L360.8,525.9L363.8,525.5L366.8,525.1L369.9,524.8L372.9,524.4L375.9,524.0L378.9,523.7L381.9,523.3L384.9,523.0L387.9,522.7L390.9,522.3L393.9,522.0L397.0,521.7L400.0,521.4L403.0,521.1L406.0,520.8L409.0,520.5L412.0,520.2L415.0,519.9L418.0,519.6L420.9,519.4L423.9,519.1L426.9,518.8L429.9,518.6L432.9,518.3L435.9,518.1L438.9,517.8L441.9,517.6L444.9,517.3L447.9,517.1L450.9,516.9L453.8,516.7L456.8,516.4L459.8,516.2L462.8,516.0L465.8,515.8L468.8,515.6L471.8,515.4L474.7,515.2L477.7,515.0L480.7,514.9L483.7,514.7L486.7,514.5L489.7,514.3L492.6,514.2L495.6,514.0L498.6,513.8L501.6,513.7L504.6,513.5L507.6,513.4L510.6,513.2L513.5,513.1L516.5,512.9L519.5,512.8L522.5,512.6L525.5,512.5L528.5,512.3L531.5,512.2L534.5,512.1L537.5,512.0L540.5,511.8L543.4,511.7L546.4,511.6L549.4,511.5L552.4,511.4L555.4,511.2L558.4,511.1L561.4,511.0L564.4,510.9L567.4,510.8L570.4,510.7L573.4,510.6L576.5,510.5L579.5,510.4L582.5,510.3L585.5,510.2L588.5,510.1L591.5,510.0L594.5,509.9L597.5,509.8L600.6,509.7L603.6,509.6L606.6,509.5L609.6,509.4L612.6,509.3L615.6,509.2L618.7,509.1L621.7,509.0L624.7,508.9L627.7,508.8L630.8,508.7L633.8,508.6L636.8,508.5L639.8,508.4L642.9,508.3L645.9,508.2L648.9,508.1L651.9,508.0L655.0,507.9L658.0,507.8L661.0,507.6L664.1,507.5L667.1,507.4L670.1,507.3L673.1,507.2L676.2,507.0L679.2,506.9L682.2,506.8L685.3,506.7L688.3,506.5L691.3,506.4L694.3,506.2L697.4,506.1L700.4,505.9L703.4,505.8L706.4,505.6L709.5,505.5L712.5,505.3L715.5,505.1L718.5,505.0L721.6,504.8L724.6,504.6L727.6,504.4L730.6,504.2L733.7,504.0L736.7,503.8L739.7,503.6L742.7,503.4L745.8,503.2L748.8,503.0L751.8,502.7L754.8,502.5L757.8,502.3L760.8,502.0L763.8,501.8L766.9,501.5L769.9,501.3L772.9,501.0L775.9,500.7L778.9,500.4L781.9,500.2L784.9,499.9L787.9,499.6L790.9,499.2L793.9,498.9L796.9,498.6L799.9,498.3L802.9,497.9L805.9,497.6L808.9,497.2L811.9,496.9L814.9,496.5L817.9,496.1L820.9,495.8L823.9,495.4L826.8,495.0L829.8,494.6L832.8,494.1L835.8,493.7L838.8,493.3L841.7,492.8L844.7,492.4L847.7,491.9L850.7,491.4L853.6,491.0L856.6,490.5L859.6,490.0L862.5,489.5L865.5,488.9L868.4,488.4L871.4,487.9L874.3,487.3L877.3,486.8L880.2,486.2L883.2,485.6L886.1,485.0L889.0,484.4L892.0,483.8L894.9,483.2L897.9,482.5L900.8,481.9L903.7,481.2L906.6,480.6L909.6,479.9L912.5,479.2L915.4,478.5L918.3,477.8L921.2,477.1L924.1,476.4L927.0,475.7L930.0,474.9L932.9,474.2L935.8,473.5L938.7,472.7L941.6,472.0L944.5,471.2L947.4,470.5L950.3,469.7L953.2,469.0L956.1,468.2L959.0,467.5L961.9,466.7L964.8,466.0L967.7,465.2L970.7,464.5L973.6,463.7L976.5,463.0L979.4,462.2L982.3,461.5L985.2,460.8L988.1,460.1L991.1,459.3L994.0,458.6L996.9,457.9L999.8,457.2L1002.8,456.5L1005.7,455.8L1008.6,455.2L1011.6,454.5L1014.5,453.8L1017.4,453.2L1020.4,452.6L1023.3,451.9L1026.3,451.3L1029.3,450.7L1032.2,450.1L1035.2,449.6L1038.2,449.0L1041.1,448.5L1044.1,447.9L1047.1,447.4L1050.1,446.9L1053.1,446.5L1056.1,446.0L1059.1,445.6L1062.1,445.1L1065.1,444.7L1068.1,444.3L1071.1,444.0L1074.2,443.6L1077.2,443.3L1080.2,443.0L1083.3,442.7L1086.3,442.5L1089.4,442.2L1092.5,441.9L1095.5,441.7L1098.6,441.5L1101.6,441.2L1104.7,441.0L1107.7,440.7L1110.8,440.5L1113.8,440.2L1116.9,439.9L1119.9,439.6L1122.9,439.3L1125.9,439.0L1128.9,438.6L1131.9,438.2L1134.9,437.8L1137.9,437.3L1140.8,436.9L1143.8,436.3L1146.7,435.8L1149.6,435.2L1152.5,434.5L1155.4,433.8L1158.2,433.1L1161.1,432.3L1163.9,431.4L1166.7,430.5L1169.4,429.5L1172.2,428.4L1174.9,427.3L1177.6,426.1L1180.3,424.9L1182.9,423.5L1185.5,422.1L1188.1,420.6L1190.6,419.1L1193.1,417.4L1195.5,415.7L1197.9,414.0L1200.3,412.1L1202.5,410.2L1204.7,408.2L1206.9,406.2L1208.9,404.1L1211.0,401.9L1212.9,399.7L1214.8,397.4L1216.7,395.1L1218.5,392.7L1220.3,390.3L1222.0,387.8L1223.7,385.3L1225.4,382.8L1227.0,380.2L1228.6,377.6L1230.2,375.0L1231.8,372.4L1233.4,369.8L1234.9,367.1L1236.4,364.5L1238.0,361.8L1239.5,359.2L1241.0,356.5L1242.6,353.9L1244.1,351.2L1245.6,348.6L1247.2,346.0L1248.8,343.4L1250.3,340.8L1251.9,338.2L1253.5,335.6L1255.1,333.1L1256.6,330.5L1258.2,327.9L1259.8,325.4L1261.4,322.9L1263.0,320.3L1264.7,317.8L1266.3,315.3L1267.9,312.7L1269.5,310.2L1271.2,307.7L1272.8,305.2L1274.4,302.7L1276.1,300.2L1277.7,297.7L1279.4,295.3L1281.0,292.8L1282.7,290.3L1284.4,287.8L1286.0,285.3L1287.7,282.9L1289.4,280.4L1291.0,277.9L1292.7,275.5L1294.4,273.0L1296.1,270.6L1297.7,268.1L1299.4,265.6L1301.1,263.2L1302.8,260.7L1304.5,258.2L1306.2,255.8L1307.9,253.3L1309.6,250.9L1311.2,248.4L1312.9,245.9L1314.6,243.5L1316.3,241.0L1318.0,238.5L1319.7,236.0L1321.4,233.6L1323.1,231.1L1324.8,228.6L1326.5,226.1L1328.2,223.6L1329.9,221.1L1331.6,218.6L1333.3,216.1L1334.9,213.6L1336.6,211.1L1338.3,208.5L1340.0,206.0 M1340.0,206.0L1339.6,209.0L1339.1,212.0L1338.7,215.0L1338.2,218.0L1337.7,221.0L1337.2,224.0L1336.7,227.0L1336.2,229.9L1335.7,232.9L1335.1,235.9L1334.6,238.8L1334.0,241.8L1333.5,244.8L1332.9,247.7L1332.3,250.7L1331.7,253.6L1331.1,256.5L1330.5,259.5L1329.8,262.4L1329.2,265.4L1328.5,268.3L1327.9,271.2L1327.2,274.1L1326.5,277.0L1325.8,280.0L1325.1,282.9L1324.4,285.8L1323.7,288.7L1323.0,291.6L1322.3,294.5L1321.5,297.4L1320.7,300.3L1320.0,303.2L1319.2,306.1L1318.4,308.9L1317.6,311.8L1316.8,314.7L1316.0,317.6L1315.2,320.4L1314.3,323.3L1313.5,326.2L1312.7,329.0L1311.8,331.9L1310.9,334.8L1310.1,337.6L1309.2,340.5L1308.3,343.3L1307.4,346.2L1306.5,349.0L1305.5,351.9L1304.6,354.7L1303.7,357.6L1302.7,360.4L1301.8,363.3L1300.8,366.1L1299.8,368.9L1298.8,371.8L1297.9,374.6L1296.9,377.4L1295.9,380.2L1294.8,383.1L1293.8,385.9L1292.8,388.7L1291.7,391.5L1290.7,394.4L1289.6,397.2L1288.6,400.0L1287.5,402.8L1286.4,405.6L1285.4,408.4L1284.3,411.2L1283.2,414.0L1282.1,416.9L1280.9,419.7L1279.8,422.5L1278.7,425.3L1277.5,428.1L1276.4,430.9L1275.2,433.7L1274.1,436.5L1272.9,439.3L1271.7,442.1L1270.6,444.9L1269.4,447.7L1268.2,450.5L1267.0,453.3L1265.8,456.1L1264.5,458.8L1263.3,461.6L1262.1,464.4L1260.8,467.2L1259.5,469.9L1258.3,472.7L1257.0,475.4L1255.7,478.2L1254.4,480.9L1253.0,483.7L1251.7,486.4L1250.3,489.1L1249.0,491.8L1247.6,494.5L1246.2,497.2L1244.8,499.9L1243.4,502.5L1241.9,505.2L1240.5,507.8L1239.0,510.5L1237.5,513.1L1236.0,515.7L1234.5,518.3L1232.9,520.9L1231.4,523.4L1229.8,526.0L1228.2,528.5L1226.6,531.0L1224.9,533.5L1223.3,536.0L1221.6,538.5L1219.9,540.9L1218.2,543.3L1216.4,545.8L1214.7,548.1L1212.9,550.5L1211.1,552.9L1209.3,555.2L1207.4,557.5L1205.5,559.8L1203.6,562.1L1201.7,564.3L1199.8,566.5L1197.8,568.8L1195.8,571.0L1193.8,573.1L1191.8,575.3L1189.8,577.5L1187.7,579.6L1185.6,581.7L1183.5,583.8L1181.4,585.9L1179.3,588.0L1177.2,590.1L1175.0,592.2L1172.9,594.2L1170.7,596.3L1168.5,598.3L1166.3,600.3L1164.1,602.4L1161.9,604.4L1159.7,606.4L1157.5,608.4L1155.2,610.4L1153.0,612.4L1150.7,614.4L1148.5,616.4L1146.2,618.4L1143.9,620.4L1141.7,622.4L1139.4,624.4L1137.1,626.4L1134.8,628.4L1132.5,630.4L1130.2,632.4L1127.9,634.4L1125.6,636.4L1123.4,638.4L1121.1,640.4L1118.8,642.5L1116.5,644.5L1114.2,646.5L1111.9,648.5L1109.6,650.5L1107.3,652.5L1105.0,654.6L1102.6,656.5L1100.3,658.5L1098.0,660.5L1095.6,662.5L1093.3,664.4L1090.9,666.4L1088.5,668.3L1086.2,670.2L1083.8,672.1L1081.4,673.9L1078.9,675.8L1076.5,677.6L1074.1,679.4L1071.6,681.2L1069.1,682.9L1066.6,684.6L1064.1,686.3L1061.6,688.0L1059.1,689.6L1056.5,691.2L1053.9,692.8L1051.3,694.3L1048.7,695.8L1046.1,697.2L1043.4,698.6L1040.8,699.9L1038.1,701.2L1035.4,702.3L1032.7,703.4L1029.9,704.5L1027.2,705.4L1024.4,706.3L1021.6,707.1L1018.9,707.7L1016.1,708.3L1013.2,708.8L1010.4,709.1L1007.6,709.4L1004.8,709.6L1001.9,709.6L999.1,709.6L996.2,709.5L993.4,709.3L990.5,709.0L987.7,708.6L984.8,708.1L982.0,707.6L979.1,707.0L976.3,706.3L973.5,705.5L970.7,704.7L967.9,703.8L965.1,702.9L962.3,701.9L959.5,700.8L956.8,699.7L954.0,698.6L951.3,697.3L948.6,696.1L945.9,694.8L943.2,693.5L940.5,692.1L937.8,690.7L935.2,689.3L932.5,687.8L929.8,686.3L927.2,684.8L924.5,683.3L921.9,681.8L919.2,680.2L916.6,678.7L913.9,677.1L911.3,675.5L908.7,674.0L906.0,672.4L903.3,670.9L900.7,669.3L898.0,667.8L895.4,666.3L892.7,664.8L890.0,663.3L887.3,661.8L884.7,660.3L882.0,658.9L879.3,657.5L876.6,656.1L873.9,654.7L871.2,653.3L868.4,652.0L865.7,650.6L863.0,649.3L860.3,648.0L857.5,646.7L854.8,645.4L852.0,644.2L849.3,642.9L846.5,641.7L843.8,640.5L841.0,639.3L838.2,638.1L835.5,636.9L832.7,635.7L829.9,634.6L827.1,633.5L824.3,632.3L821.5,631.2L818.7,630.1L815.9,629.1L813.1,628.0L810.3,626.9L807.5,625.9L804.6,624.9L801.8,623.9L799.0,622.9L796.2,621.9L793.3,620.9L790.5,620.0L787.6,619.0L784.8,618.1L781.9,617.2L779.1,616.3L776.2,615.4L773.4,614.5L770.5,613.6L767.6,612.7L764.7,611.9L761.9,611.1L759.0,610.2L756.1,609.4L753.2,608.6L750.3,607.8L747.4,607.0L744.5,606.3L741.6,605.5L738.7,604.8L735.8,604.0L732.9,603.3L730.0,602.6L727.1,601.9L724.2,601.2L721.3,600.5L718.3,599.8L715.4,599.1L712.5,598.5L709.5,597.8L706.6,597.2L703.7,596.6L700.7,595.9L697.8,595.3L694.9,594.7L691.9,594.1L689.0,593.5L686.0,593.0L683.1,592.4L680.1,591.8L677.2,591.3L674.2,590.7L671.2,590.2L668.3,589.7L665.3,589.2L662.3,588.7L659.4,588.1L656.4,587.7L653.4,587.2L650.5,586.7L647.5,586.2L644.5,585.7L641.5,585.3L638.6,584.8L635.6,584.4L632.6,583.9L629.6,583.5L626.6,583.1L623.6,582.7L620.7,582.2L617.7,581.8L614.7,581.4L611.7,581.0L608.7,580.6L605.7,580.2L602.7,579.9L599.7,579.5L596.7,579.1L593.7,578.8L590.7,578.4L587.7,578.0L584.7,577.7L581.7,577.3L578.7,577.0L575.7,576.7L572.7,576.3L569.7,576.0L566.7,575.7L563.7,575.4L560.7,575.0L557.7,574.7L554.7,574.4L551.7,574.1L548.7,573.8L545.7,573.5L542.7,573.2L539.7,572.9L536.7,572.6L533.7,572.4L530.7,572.1L527.7,571.8L524.7,571.5L521.7,571.2L518.7,571.0L515.7,570.7L512.7,570.4L509.7,570.2L506.7,569.9L503.7,569.6L500.7,569.4L497.7,569.1L494.7,568.8L491.7,568.6L488.7,568.3L485.7,568.1L482.7,567.8L479.7,567.6L476.7,567.3L473.7,567.1L470.7,566.8L467.7,566.6L464.7,566.4L461.7,566.1L458.7,565.9L455.7,565.7L452.7,565.5L449.7,565.2L446.7,565.0L443.8,564.8L440.8,564.6L437.8,564.4L434.8,564.2L431.8,564.0L428.8,563.8L425.8,563.6L422.8,563.4L419.8,563.2L416.8,563.0L413.8,562.9L410.8,562.7L407.8,562.5L404.8,562.3L401.8,562.2L398.9,562.0L395.9,561.9L392.9,561.7L389.9,561.6L386.9,561.5L383.9,561.3L380.9,561.2L377.9,561.1L374.9,561.0L371.9,560.9L368.9,560.8L365.9,560.7L362.9,560.6L359.9,560.5L356.9,560.4L353.9,560.3L350.9,560.2L347.9,560.2L344.9,560.1L341.9,560.1L338.9,560.0L335.9,560.0L332.9,560.0L329.9,559.9L326.8,559.9L323.8,559.9L320.8,559.9L317.8,559.9L314.8,559.9L311.8,559.9L308.8,560.0L305.8,560.0L302.7,560.0L299.7,560.1L296.7,560.1L293.7,560.2L290.7,560.3L287.7,560.4L284.6,560.4L281.6,560.5L278.6,560.6L275.6,560.8L272.5,560.9L269.5,561.0" fill="none" stroke="#00ff00" stroke-width="7" stroke-linejoin="round" stroke-linecap="butt" clip-path="url(#ca)"/>
<path d="M269.5,587.0L270.0,583.9L270.7,581.0L271.6,578.2L272.7,575.5L274.0,573.0L275.5,570.6L277.1,568.3L278.8,566.1L280.7,564.0L282.8,562.0L284.9,560.1L287.1,558.3L289.5,556.6L291.9,555.0L294.4,553.4L296.9,551.9L299.5,550.4L302.1,549.0L304.8,547.6L307.5,546.3L310.1,545.0L312.8,543.7L315.6,542.5L318.3,541.3L321.0,540.1L323.8,539.0L326.6,537.9L329.4,536.8L332.2,535.8L335.0,534.7L337.9,533.8L340.7,532.8L343.6,531.9L346.4,531.0L349.3,530.1L352.2,529.3L355.1,528.5L358.0,527.7L360.9,526.9L363.9,526.1L366.8,525.4L369.7,524.7L372.7,524.0L375.7,523.3L378.6,522.7L381.6,522.0L384.6,521.4L387.6,520.8L390.5,520.2L393.5,519.7L396.5,519.1L399.5,518.6L402.5,518.0L405.5,517.5L408.5,517.0L411.5,516.5L414.5,516.0L417.6,515.6L420.6,515.1L423.6,514.6L426.6,514.2L429.6,513.7L432.6,513.3L435.6,512.8L438.6,512.4L441.6,512.0L444.6,511.6L447.6,511.2L450.6,510.8L453.7,510.4L456.7,510.0L459.7,509.6L462.7,509.2L465.7,508.9L468.7,508.5L471.7,508.1L474.7,507.8L477.7,507.4L480.7,507.1L483.7,506.8L486.7,506.4L489.7,506.1L492.7,505.8L495.7,505.5L498.7,505.1L501.7,504.8L504.7,504.5L507.7,504.2L510.8,503.9L513.8,503.6L516.8,503.3L519.8,503.0L522.8,502.8L525.8,502.5L528.8,502.2L531.8,501.9L534.8,501.6L537.8,501.4L540.8,501.1L543.8,500.8L546.8,500.6L549.8,500.3L552.8,500.1L555.8,499.8L558.8,499.6L561.8,499.3L564.8,499.0L567.8,498.8L570.8,498.5L573.8,498.3L576.8,498.1L579.8,497.8L582.8,497.6L585.8,497.3L588.7,497.1L591.7,496.8L594.7,496.6L597.7,496.3L600.7,496.1L603.7,495.9L606.7,495.6L609.7,495.4L612.7,495.1L615.7,494.9L618.7,494.6L621.7,494.4L624.7,494.1L627.7,493.9L630.7,493.6L633.7,493.4L636.6,493.1L639.6,492.9L642.6,492.6L645.6,492.4L648.6,492.1L651.6,491.9L654.6,491.6L657.6,491.3L660.6,491.0L663.5,490.8L666.5,490.5L669.5,490.2L672.5,489.9L675.5,489.7L678.5,489.4L681.5,489.1L684.5,488.8L687.4,488.5L690.4,488.2L693.4,487.9L696.4,487.6L699.4,487.3L702.4,486.9L705.3,486.6L708.3,486.3L711.3,486.0L714.3,485.6L717.3,485.3L720.2,484.9L723.2,484.6L726.2,484.2L729.2,483.9L732.2,483.5L735.1,483.1L738.1,482.7L741.1,482.3L744.1,482.0L747.1,481.6L750.0,481.1L753.0,480.7L756.0,480.3L759.0,479.9L761.9,479.5L764.9,479.0L767.9,478.6L770.9,478.1L773.8,477.7L776.8,477.2L779.8,476.7L782.7,476.2L785.7,475.7L788.7,475.2L791.6,474.7L794.6,474.2L797.6,473.7L800.5,473.2L803.5,472.6L806.5,472.1L809.4,471.5L812.4,471.0L815.4,470.4L818.3,469.8L821.3,469.2L824.2,468.6L827.2,468.0L830.2,467.4L833.1,466.8L836.1,466.2L839.0,465.5L842.0,464.9L844.9,464.2L847.8,463.6L850.8,462.9L853.7,462.2L856.7,461.5L859.6,460.8L862.5,460.1L865.5,459.4L868.4,458.7L871.3,458.0L874.2,457.2L877.2,456.5L880.1,455.7L883.0,454.9L885.9,454.2L888.8,453.4L891.7,452.6L894.6,451.8L897.5,451.0L900.4,450.1L903.3,449.3L906.2,448.5L909.1,447.6L912.0,446.8L914.9,445.9L917.8,445.0L920.7,444.1L923.5,443.2L926.4,442.3L929.3,441.4L932.1,440.5L935.0,439.5L937.9,438.6L940.7,437.6L943.6,436.7L946.4,435.7L949.2,434.7L952.1,433.7L954.9,432.7L957.7,431.7L960.6,430.6L963.4,429.6L966.2,428.6L969.0,427.5L971.8,426.4L974.6,425.4L977.4,424.3L980.2,423.2L983.0,422.1L985.8,421.0L988.6,419.8L991.3,418.7L994.1,417.5L996.9,416.4L999.6,415.2L1002.4,414.0L1005.1,412.8L1007.9,411.6L1010.6,410.4L1013.4,409.2L1016.1,407.9L1018.8,406.7L1021.5,405.5L1024.3,404.2L1027.0,403.0L1029.7,401.7L1032.4,400.5L1035.2,399.2L1037.9,398.0L1040.6,396.7L1043.3,395.5L1046.1,394.3L1048.8,393.1L1051.6,391.9L1054.3,390.7L1057.1,389.5L1059.8,388.3L1062.6,387.1L1065.4,386.0L1068.2,384.9L1071.0,383.8L1073.8,382.7L1076.6,381.6L1079.4,380.6L1082.3,379.6L1085.1,378.6L1088.0,377.6L1090.9,376.7L1093.8,375.8L1096.7,374.9L1099.6,374.1L1102.6,373.3L1105.6,372.5L1108.5,371.8L1111.6,371.1L1114.6,370.4L1117.6,369.7L1120.7,369.1L1123.7,368.5L1126.8,368.0L1129.8,367.4L1132.9,366.8L1136.0,366.3L1139.0,365.7L1142.1,365.1L1145.1,364.5L1148.2,363.9L1151.2,363.3L1154.2,362.7L1157.1,362.0L1160.1,361.2L1163.0,360.5L1165.9,359.7L1168.8,358.8L1171.6,357.9L1174.4,356.9L1177.2,355.9L1179.9,354.8L1182.5,353.6L1185.1,352.4L1187.7,351.0L1190.2,349.6L1192.7,348.1L1195.1,346.5L1197.5,344.8L1199.8,343.1L1202.1,341.2L1204.3,339.4L1206.5,337.4L1208.6,335.4L1210.7,333.3L1212.8,331.2L1214.8,329.0L1216.8,326.8L1218.7,324.5L1220.6,322.2L1222.5,319.9L1224.4,317.5L1226.2,315.1L1228.0,312.6L1229.8,310.2L1231.6,307.7L1233.3,305.2L1235.0,302.7L1236.7,300.2L1238.4,297.7L1240.1,295.1L1241.7,292.6L1243.3,290.0L1244.9,287.5L1246.5,284.9L1248.1,282.3L1249.7,279.7L1251.2,277.1L1252.7,274.5L1254.3,271.9L1255.8,269.3L1257.3,266.7L1258.7,264.1L1260.2,261.4L1261.7,258.8L1263.1,256.1L1264.5,253.5L1266.0,250.8L1267.4,248.2L1268.8,245.5L1270.2,242.8L1271.6,240.1L1273.0,237.5L1274.3,234.8L1275.7,232.1L1277.1,229.4L1278.4,226.7L1279.8,224.0L1281.1,221.3L1282.5,218.6L1283.8,215.9L1285.2,213.2L1286.5,210.5L1287.8,207.8L1289.2,205.1L1290.5,202.4L1291.8,199.7L1293.2,197.0L1294.5,194.3L1295.8,191.6L1297.1,188.9L1298.5,186.2L1299.8,183.5L1301.1,180.8L1302.5,178.1L1303.8,175.4L1305.2,172.7L1306.5,170.0L1307.9,167.3L1309.3,164.6L1310.6,162.0L1312.0,159.3L1313.4,156.6L1314.8,153.9L1316.2,151.3L1317.6,148.6L1319.0,146.0L1320.4,143.3L1321.8,140.7L1323.3,138.0L1324.7,135.4L1326.2,132.8L1327.7,130.2L1329.2,127.6L1330.7,125.0L1332.2,122.4L1333.7,119.8L1335.3,117.2L1336.8,114.6L1338.4,112.1L1340.0,109.5 M1340.0,109.5L1339.5,112.4L1339.0,115.3L1338.5,118.3L1337.9,121.2L1337.4,124.1L1336.9,127.0L1336.4,130.0L1335.8,132.9L1335.3,135.8L1334.8,138.8L1334.2,141.7L1333.7,144.6L1333.1,147.6L1332.6,150.5L1332.0,153.5L1331.4,156.4L1330.9,159.3L1330.3,162.3L1329.7,165.2L1329.2,168.2L1328.6,171.1L1328.0,174.0L1327.4,177.0L1326.8,179.9L1326.2,182.9L1325.6,185.8L1325.0,188.8L1324.4,191.7L1323.8,194.7L1323.2,197.6L1322.6,200.6L1321.9,203.5L1321.3,206.4L1320.7,209.4L1320.0,212.3L1319.4,215.3L1318.7,218.2L1318.1,221.2L1317.4,224.1L1316.8,227.1L1316.1,230.0L1315.4,233.0L1314.7,235.9L1314.1,238.8L1313.4,241.8L1312.7,244.7L1312.0,247.7L1311.3,250.6L1310.6,253.6L1309.9,256.5L1309.1,259.4L1308.4,262.4L1307.7,265.3L1307.0,268.2L1306.2,271.2L1305.5,274.1L1304.7,277.0L1304.0,280.0L1303.2,282.9L1302.4,285.8L1301.6,288.8L1300.9,291.7L1300.1,294.6L1299.3,297.5L1298.5,300.5L1297.7,303.4L1296.9,306.3L1296.1,309.2L1295.2,312.1L1294.4,315.0L1293.6,317.9L1292.7,320.9L1291.9,323.8L1291.0,326.7L1290.2,329.6L1289.3,332.5L1288.4,335.4L1287.6,338.3L1286.7,341.2L1285.8,344.0L1284.9,346.9L1284.0,349.8L1283.1,352.7L1282.1,355.6L1281.2,358.5L1280.3,361.3L1279.3,364.2L1278.4,367.1L1277.4,369.9L1276.5,372.8L1275.5,375.7L1274.5,378.5L1273.5,381.4L1272.6,384.2L1271.6,387.1L1270.5,389.9L1269.5,392.8L1268.5,395.6L1267.5,398.4L1266.5,401.3L1265.4,404.1L1264.4,406.9L1263.3,409.8L1262.2,412.6L1261.2,415.4L1260.1,418.2L1259.0,421.0L1257.9,423.8L1256.8,426.6L1255.7,429.4L1254.5,432.2L1253.4,435.0L1252.3,437.8L1251.1,440.5L1250.0,443.3L1248.8,446.1L1247.6,448.9L1246.5,451.6L1245.3,454.4L1244.1,457.1L1242.9,459.9L1241.7,462.6L1240.4,465.4L1239.2,468.1L1238.0,470.8L1236.7,473.5L1235.5,476.3L1234.2,479.0L1232.9,481.7L1231.6,484.4L1230.3,487.1L1229.0,489.8L1227.7,492.5L1226.4,495.2L1225.1,497.9L1223.7,500.5L1222.4,503.2L1221.0,505.9L1219.7,508.5L1218.3,511.2L1216.9,513.8L1215.5,516.5L1214.1,519.1L1212.7,521.7L1211.3,524.4L1209.8,527.0L1208.4,529.6L1206.9,532.2L1205.5,534.8L1204.0,537.4L1202.5,540.0L1201.0,542.6L1199.5,545.1L1198.0,547.7L1196.5,550.3L1194.9,552.8L1193.4,555.4L1191.8,557.9L1190.3,560.5L1188.7,563.0L1187.1,565.5L1185.5,568.1L1183.9,570.6L1182.3,573.1L1180.7,575.6L1179.0,578.1L1177.4,580.5L1175.7,583.0L1174.0,585.5L1172.4,588.0L1170.7,590.4L1169.0,592.9L1167.3,595.3L1165.5,597.8L1163.8,600.2L1162.1,602.6L1160.3,605.0L1158.5,607.4L1156.7,609.8L1154.9,612.2L1153.1,614.6L1151.3,617.0L1149.5,619.3L1147.7,621.7L1145.8,624.1L1144.0,626.4L1142.1,628.7L1140.2,631.1L1138.3,633.4L1136.4,635.7L1134.5,638.0L1132.6,640.3L1130.6,642.6L1128.7,644.9L1126.7,647.2L1124.7,649.5L1122.8,651.7L1120.8,654.0L1118.8,656.3L1116.8,658.5L1114.7,660.8L1112.7,663.1L1110.7,665.3L1108.6,667.6L1106.6,669.8L1104.5,672.1L1102.5,674.3L1100.4,676.5L1098.3,678.8L1096.2,681.0L1094.1,683.2L1092.0,685.5L1089.9,687.7L1087.7,690.0L1085.6,692.2L1083.5,694.4L1081.3,696.7L1079.2,698.9L1077.0,701.1L1074.8,703.4L1072.7,705.6L1070.5,707.9L1068.3,710.1L1066.1,712.4L1063.9,714.6L1061.7,716.8L1059.5,719.0L1057.3,721.2L1055.0,723.4L1052.8,725.5L1050.5,727.6L1048.2,729.7L1045.9,731.8L1043.6,733.8L1041.3,735.8L1038.9,737.8L1036.5,739.7L1034.2,741.5L1031.8,743.3L1029.3,745.1L1026.9,746.8L1024.4,748.5L1021.9,750.1L1019.4,751.6L1016.9,753.1L1014.3,754.5L1011.7,755.8L1009.1,757.1L1006.5,758.2L1003.8,759.3L1001.2,760.4L998.5,761.3L995.8,762.2L993.0,763.0L990.3,763.7L987.5,764.4L984.8,764.9L982.0,765.4L979.2,765.8L976.4,766.1L973.6,766.3L970.8,766.4L967.9,766.5L965.1,766.4L962.3,766.3L959.4,766.0L956.6,765.7L953.8,765.3L950.9,764.8L948.1,764.2L945.2,763.6L942.4,762.9L939.5,762.2L936.7,761.3L933.8,760.5L930.9,759.5L928.1,758.6L925.2,757.5L922.4,756.5L919.5,755.4L916.7,754.3L913.9,753.1L911.0,751.9L908.2,750.7L905.4,749.5L902.5,748.2L899.7,746.9L896.9,745.7L894.1,744.4L891.3,743.1L888.5,741.8L885.7,740.6L882.9,739.3L880.1,738.0L877.3,736.7L874.5,735.4L871.7,734.1L869.0,732.8L866.2,731.5L863.4,730.2L860.7,728.9L857.9,727.6L855.2,726.2L852.4,724.9L849.7,723.6L846.9,722.3L844.2,721.0L841.5,719.7L838.7,718.4L836.0,717.0L833.3,715.7L830.5,714.4L827.8,713.1L825.1,711.8L822.3,710.5L819.6,709.2L816.9,707.9L814.2,706.6L811.5,705.3L808.7,704.0L806.0,702.7L803.3,701.4L800.6,700.1L797.9,698.8L795.1,697.5L792.4,696.2L789.7,694.9L787.0,693.7L784.3,692.4L781.5,691.1L778.8,689.9L776.1,688.6L773.4,687.4L770.7,686.1L767.9,684.9L765.2,683.6L762.5,682.4L759.7,681.2L757.0,680.0L754.3,678.8L751.5,677.6L748.8,676.4L746.0,675.2L743.3,674.0L740.5,672.8L737.8,671.7L735.0,670.5L732.2,669.4L729.5,668.2L726.7,667.1L723.9,666.0L721.1,664.9L718.4,663.8L715.6,662.7L712.8,661.6L710.0,660.5L707.2,659.5L704.4,658.4L701.6,657.4L698.7,656.4L695.9,655.3L693.1,654.3L690.3,653.3L687.4,652.3L684.6,651.3L681.8,650.4L678.9,649.4L676.1,648.5L673.2,647.5L670.3,646.6L667.5,645.7L664.6,644.7L661.8,643.8L658.9,642.9L656.0,642.0L653.1,641.2L650.2,640.3L647.3,639.4L644.5,638.6L641.6,637.7L638.7,636.9L635.8,636.1L632.9,635.2L630.0,634.4L627.0,633.6L624.1,632.8L621.2,632.1L618.3,631.3L615.4,630.5L612.5,629.8L609.5,629.0L606.6,628.3L603.7,627.5L600.7,626.8L597.8,626.1L594.9,625.4L591.9,624.7L589.0,624.0L586.0,623.3L583.1,622.6L580.2,621.9L577.2,621.3L574.2,620.6L571.3,620.0L568.3,619.3L565.4,618.7L562.4,618.1L559.5,617.4L556.5,616.8L553.5,616.2L550.6,615.6L547.6,615.0L544.7,614.5L541.7,613.9L538.7,613.3L535.7,612.8L532.8,612.2L529.8,611.6L526.8,611.1L523.9,610.6L520.9,610.0L517.9,609.5L514.9,609.0L512.0,608.5L509.0,608.0L506.0,607.5L503.0,607.0L500.1,606.5L497.1,606.0L494.1,605.6L491.1,605.1L488.2,604.7L485.2,604.2L482.2,603.8L479.2,603.3L476.3,602.9L473.3,602.5L470.3,602.0L467.3,601.6L464.3,601.2L461.4,600.8L458.4,600.4L455.4,600.0L452.4,599.6L449.4,599.3L446.5,598.9L443.5,598.5L440.5,598.2L437.5,597.8L434.5,597.4L431.6,597.1L428.6,596.8L425.6,596.4L422.6,596.1L419.6,595.8L416.6,595.5L413.6,595.2L410.7,594.9L407.7,594.6L404.7,594.3L401.7,594.0L398.7,593.7L395.7,593.4L392.7,593.2L389.7,592.9L386.8,592.7L383.8,592.4L380.8,592.2L377.8,591.9L374.8,591.7L371.8,591.5L368.8,591.2L365.8,591.0L362.8,590.8L359.8,590.6L356.8,590.4L353.8,590.2L350.8,590.0L347.8,589.8L344.8,589.7L341.8,589.5L338.8,589.3L335.8,589.2L332.8,589.0L329.8,588.9L326.8,588.7L323.8,588.6L320.8,588.5L317.8,588.3L314.8,588.2L311.7,588.1L308.7,588.0L305.7,587.9L302.7,587.8L299.7,587.7L296.7,587.6L293.7,587.5L290.6,587.4L287.6,587.3L284.6,587.3L281.6,587.2L278.6,587.1L275.5,587.1L272.5,587.0L269.5,587.0" fill="none" stroke="#0000ff" stroke-width="7" stroke-linejoin="round" stroke-linecap="butt" clip-path="url(#ca)"/>
</g>
<g id="pb">
<rect x="270.0" y="1257.5" width="1076.0" height="795.0" fill="none" stroke="#000" stroke-width="5"/>
<path d="M259.5,1257.5H270.0 M251.5,1329.8H270.0 M259.5,1402.0H270.0 M251.5,1474.3H270.0 M259.5,1546.6H270.0 M251.5,1618.9H270.0 M259.5,1691.1H270.0 M251.5,1763.4H270.0 M259.5,1835.7H270.0 M251.5,1908.0H270.0 M259.5,1980.2H270.0 M251.5,2052.5H270.0 M270.0,2052.5V2069.5 M359.7,2052.5V2063.0 M449.3,2052.5V2069.5 M539.0,2052.5V2063.0 M628.7,2052.5V2069.5 M718.3,2052.5V2063.0 M808.0,2052.5V2069.5 M897.7,2052.5V2063.0 M987.3,2052.5V2069.5 M1077.0,2052.5V2063.0 M1166.7,2052.5V2069.5 M1256.3,2052.5V2063.0 M1346.0,2052.5V2069.5" stroke="#000" stroke-width="5" fill="none"/>
<text class="tl" transform="translate(243,1342.8) scale(0.96,1)" text-anchor="end">0.4</text>
<text class="tl" transform="translate(243,1487.3) scale(0.96,1)" text-anchor="end">0.3</text>
<text class="tl" transform="translate(243,1631.9) scale(0.96,1)" text-anchor="end">0.2</text>
<text class="tl" transform="translate(243,1776.4) scale(0.96,1)" text-anchor="end">0.1</text>
<text class="tl" transform="translate(243,1921.0) scale(0.96,1)" text-anchor="end">0.0</text>
<text class="tl" transform="translate(243,2065.5) scale(0.96,1)" text-anchor="end">-0.1</text>
<text class="tl" transform="translate(270.0,2115) scale(0.96,1)" text-anchor="middle">0</text>
<text class="tl" transform="translate(449.3,2115) scale(0.96,1)" text-anchor="middle">100</text>
<text class="tl" transform="translate(628.7,2115) scale(0.96,1)" text-anchor="middle">200</text>
<text class="tl" transform="translate(808.0,2115) scale(0.96,1)" text-anchor="middle">300</text>
<text class="tl" transform="translate(987.3,2115) scale(0.96,1)" text-anchor="middle">400</text>
<text class="tl" transform="translate(1166.7,2115) scale(0.96,1)" text-anchor="middle">500</text>
<text class="tl" transform="translate(1346.0,2115) scale(0.96,1)" text-anchor="middle">600</text>
<clipPath id="cb"><rect x="270.0" y="1257.5" width="1076.0" height="795.0"/></clipPath>
<path d="M272.0,2056.0L272.3,2053.0L272.5,2050.0L272.8,2047.0L273.1,2044.0L273.4,2041.0L273.7,2038.0L274.0,2035.0L274.3,2032.0L274.6,2029.0L274.9,2026.1L275.3,2023.1L275.6,2020.1L275.9,2017.1L276.3,2014.1L276.6,2011.1L277.0,2008.1L277.3,2005.1L277.7,2002.1L278.1,1999.2L278.4,1996.2L278.8,1993.2L279.2,1990.2L279.6,1987.2L280.0,1984.2L280.4,1981.3L280.8,1978.3L281.2,1975.3L281.6,1972.3L282.1,1969.3L282.5,1966.4L282.9,1963.4L283.4,1960.4L283.8,1957.4L284.3,1954.5L284.7,1951.5L285.2,1948.5L285.7,1945.5L286.1,1942.6L286.6,1939.6L287.1,1936.6L287.6,1933.7L288.1,1930.7L288.6,1927.7L289.1,1924.7L289.6,1921.8L290.1,1918.8L290.7,1915.9L291.2,1912.9L291.7,1909.9L292.3,1907.0L292.8,1904.0L293.4,1901.0L293.9,1898.1L294.5,1895.1L295.0,1892.2L295.6,1889.2L296.2,1886.3L296.7,1883.3L297.3,1880.3L297.9,1877.4L298.5,1874.4L299.1,1871.5L299.7,1868.5L300.3,1865.6L300.9,1862.6L301.6,1859.7L302.2,1856.7L302.8,1853.8L303.4,1850.9L304.1,1847.9L304.7,1845.0L305.4,1842.0L306.0,1839.1L306.7,1836.1L307.3,1833.2L308.0,1830.3L308.7,1827.3L309.4,1824.4L310.0,1821.5L310.7,1818.5L311.4,1815.6L312.1,1812.7L312.8,1809.7L313.5,1806.8L314.2,1803.9L314.9,1801.0L315.7,1798.0L316.4,1795.1L317.1,1792.2L317.8,1789.3L318.6,1786.3L319.3,1783.4L320.1,1780.5L320.8,1777.6L321.6,1774.7L322.3,1771.8L323.1,1768.8L323.9,1765.9L324.6,1763.0L325.4,1760.1L326.2,1757.2L327.0,1754.3L327.8,1751.4L328.6,1748.5L329.4,1745.6L330.2,1742.7L331.0,1739.8L331.8,1736.9L332.6,1734.0L333.4,1731.1L334.3,1728.2L335.1,1725.3L335.9,1722.4L336.8,1719.5L337.6,1716.6L338.4,1713.7L339.3,1710.8L340.1,1707.9L341.0,1705.0L341.9,1702.2L342.7,1699.3L343.6,1696.4L344.5,1693.5L345.4,1690.6L346.2,1687.8L347.1,1684.9L348.0,1682.0L348.9,1679.1L349.8,1676.3L350.7,1673.4L351.6,1670.5L352.5,1667.7L353.5,1664.8L354.4,1661.9L355.3,1659.1L356.3,1656.2L357.2,1653.3L358.1,1650.5L359.1,1647.6L360.1,1644.8L361.0,1641.9L362.0,1639.1L363.0,1636.2L363.9,1633.4L364.9,1630.6L365.9,1627.7L366.9,1624.9L367.9,1622.1L368.9,1619.2L369.9,1616.4L371.0,1613.6L372.0,1610.7L373.0,1607.9L374.1,1605.1L375.1,1602.3L376.2,1599.5L377.2,1596.7L378.3,1593.9L379.4,1591.1L380.5,1588.3L381.6,1585.5L382.7,1582.7L383.8,1579.9L384.9,1577.1L386.0,1574.3L387.1,1571.5L388.3,1568.7L389.4,1566.0L390.6,1563.2L391.7,1560.4L392.9,1557.6L394.1,1554.9L395.2,1552.1L396.4,1549.4L397.6,1546.6L398.8,1543.9L400.1,1541.1L401.3,1538.4L402.5,1535.6L403.8,1532.9L405.0,1530.2L406.3,1527.5L407.5,1524.7L408.8,1522.0L410.1,1519.3L411.4,1516.6L412.7,1513.9L414.0,1511.2L415.4,1508.5L416.7,1505.8L418.0,1503.1L419.4,1500.4L420.7,1497.7L422.1,1495.0L423.5,1492.4L424.9,1489.7L426.3,1487.0L427.7,1484.4L429.1,1481.7L430.6,1479.1L432.0,1476.4L433.5,1473.8L434.9,1471.1L436.4,1468.5L437.9,1465.9L439.4,1463.3L440.9,1460.6L442.4,1458.0L443.9,1455.4L445.5,1452.8L447.0,1450.2L448.6,1447.6L450.1,1445.0L451.7,1442.5L453.3,1439.9L454.9,1437.3L456.5,1434.7L458.1,1432.2L459.7,1429.6L461.3,1427.1L463.0,1424.5L464.6,1422.0L466.3,1419.5L467.9,1416.9L469.6,1414.4L471.3,1411.9L473.0,1409.4L474.7,1406.9L476.4,1404.4L478.2,1401.9L479.9,1399.4L481.6,1396.9L483.4,1394.4L485.1,1392.0L486.9,1389.5L488.7,1387.1L490.5,1384.6L492.3,1382.2L494.1,1379.8L495.9,1377.4L497.8,1375.0L499.7,1372.6L501.5,1370.3L503.4,1368.0L505.4,1365.6L507.3,1363.4L509.3,1361.1L511.3,1358.9L513.3,1356.7L515.3,1354.5L517.4,1352.3L519.4,1350.2L521.5,1348.2L523.7,1346.1L525.8,1344.1L528.0,1342.1L530.3,1340.2L532.5,1338.3L534.8,1336.4L537.1,1334.6L539.5,1332.8L541.9,1331.1L544.3,1329.4L546.7,1327.7L549.2,1326.1L551.6,1324.5L554.2,1323.0L556.7,1321.4L559.3,1319.9L561.8,1318.5L564.4,1317.0L567.1,1315.6L569.7,1314.2L572.4,1312.9L575.1,1311.5L577.8,1310.2L580.5,1308.9L583.2,1307.7L586.0,1306.4L588.7,1305.2L591.5,1304.0L594.3,1302.8L597.1,1301.6L599.9,1300.4L602.7,1299.3L605.6,1298.2L608.4,1297.1L611.2,1295.9L614.1,1294.8L616.9,1293.8L619.8,1292.7L622.7,1291.6L625.5,1290.5L628.4,1289.5L631.3,1288.4L634.1,1287.3L637.0,1286.3L639.9,1285.2L642.7,1284.2L645.6,1283.1L648.4,1282.1L651.3,1281.0L654.1,1279.9L657.0,1278.9L659.8,1277.8L662.6,1276.7L665.5,1275.6L668.3,1274.5L671.0,1273.4L673.8,1272.2L676.6,1271.1L679.4,1269.9L682.1,1268.8L684.8,1267.6L687.5,1266.4L690.2,1265.2L692.9,1263.9L695.5,1262.7L698.2,1261.4L700.8,1260.1L703.4,1258.7L706.0,1257.4L708.5,1256.0 M710.5,1256.0L710.8,1259.0L711.3,1262.0L711.8,1264.9L712.4,1267.8L713.0,1270.8L713.7,1273.6L714.5,1276.5L715.4,1279.4L716.3,1282.2L717.3,1285.0L718.3,1287.8L719.4,1290.5L720.6,1293.3L721.8,1296.0L723.1,1298.7L724.5,1301.4L725.9,1304.0L727.3,1306.6L728.8,1309.2L730.3,1311.8L731.9,1314.3L733.6,1316.9L735.2,1319.4L737.0,1321.8L738.7,1324.3L740.5,1326.7L742.4,1329.1L744.2,1331.5L746.2,1333.8L748.1,1336.2L750.1,1338.5L752.1,1340.7L754.1,1343.0L756.2,1345.2L758.2,1347.4L760.3,1349.5L762.5,1351.6L764.6,1353.7L766.8,1355.8L769.0,1357.9L771.2,1359.9L773.5,1361.9L775.7,1363.9L778.0,1365.9L780.3,1367.9L782.6,1369.8L784.9,1371.7L787.2,1373.6L789.6,1375.5L791.9,1377.4L794.3,1379.2L796.7,1381.1L799.1,1382.9L801.5,1384.7L803.9,1386.5L806.4,1388.3L808.8,1390.1L811.2,1391.9L813.7,1393.6L816.1,1395.4L818.6,1397.2L821.1,1398.9L823.5,1400.7L826.0,1402.4L828.5,1404.2L830.9,1405.9L833.4,1407.6L835.9,1409.4L838.3,1411.1L840.8,1412.8L843.3,1414.6L845.7,1416.3L848.2,1418.1L850.6,1419.8L853.1,1421.6L855.5,1423.4L857.9,1425.1L860.3,1426.9L862.8,1428.7L865.2,1430.5L867.5,1432.3L869.9,1434.1L872.3,1435.9L874.7,1437.8L877.0,1439.6L879.3,1441.5L881.7,1443.3L884.0,1445.2L886.3,1447.1L888.6,1449.0L890.8,1451.0L893.1,1452.9L895.3,1454.9L897.5,1456.9L899.7,1458.9L901.9,1460.9L904.1,1462.9L906.2,1465.0L908.4,1467.1L910.5,1469.2L912.5,1471.3L914.6,1473.5L916.7,1475.7L918.7,1477.9L920.7,1480.1L922.6,1482.3L924.6,1484.6L926.5,1486.9L928.4,1489.3L930.3,1491.6L932.2,1494.0L934.0,1496.4L935.8,1498.8L937.6,1501.2L939.4,1503.7L941.2,1506.2L942.9,1508.7L944.6,1511.2L946.3,1513.7L948.0,1516.2L949.7,1518.7L951.4,1521.3L953.0,1523.8L954.7,1526.4L956.3,1529.0L957.9,1531.5L959.5,1534.1L961.1,1536.7L962.7,1539.3L964.2,1541.9L965.8,1544.5L967.3,1547.1L968.8,1549.7L970.4,1552.3L971.9,1554.9L973.4,1557.5L974.8,1560.1L976.3,1562.8L977.8,1565.4L979.2,1568.0L980.7,1570.7L982.1,1573.3L983.5,1576.0L984.9,1578.7L986.3,1581.3L987.7,1584.0L989.1,1586.7L990.4,1589.3L991.8,1592.0L993.1,1594.7L994.4,1597.4L995.8,1600.1L997.1,1602.8L998.4,1605.5L999.7,1608.2L1001.0,1610.9L1002.2,1613.6L1003.5,1616.4L1004.8,1619.1L1006.0,1621.8L1007.2,1624.5L1008.5,1627.3L1009.7,1630.0L1010.9,1632.8L1012.1,1635.5L1013.3,1638.3L1014.5,1641.0L1015.7,1643.8L1016.8,1646.5L1018.0,1649.3L1019.1,1652.1L1020.3,1654.8L1021.4,1657.6L1022.6,1660.4L1023.7,1663.2L1024.8,1666.0L1025.9,1668.7L1027.0,1671.5L1028.1,1674.3L1029.2,1677.1L1030.3,1679.9L1031.3,1682.7L1032.4,1685.5L1033.5,1688.3L1034.5,1691.2L1035.6,1694.0L1036.6,1696.8L1037.6,1699.6L1038.6,1702.4L1039.7,1705.3L1040.7,1708.1L1041.7,1710.9L1042.7,1713.7L1043.7,1716.6L1044.7,1719.4L1045.7,1722.3L1046.6,1725.1L1047.6,1727.9L1048.6,1730.8L1049.6,1733.6L1050.5,1736.5L1051.5,1739.3L1052.4,1742.2L1053.4,1745.1L1054.3,1747.9L1055.2,1750.8L1056.2,1753.6L1057.1,1756.5L1058.0,1759.4L1058.9,1762.2L1059.9,1765.1L1060.8,1768.0L1061.7,1770.9L1062.6,1773.7L1063.5,1776.6L1064.4,1779.5L1065.3,1782.4L1066.1,1785.2L1067.0,1788.1L1067.9,1791.0L1068.8,1793.9L1069.7,1796.8L1070.5,1799.7L1071.4,1802.6L1072.3,1805.5L1073.2,1808.3L1074.0,1811.2L1074.9,1814.1L1075.7,1817.0L1076.6,1819.9L1077.4,1822.8L1078.3,1825.7L1079.2,1828.6L1080.0,1831.5L1080.8,1834.4L1081.7,1837.3L1082.5,1840.2L1083.4,1843.1L1084.2,1846.0L1085.1,1848.9L1085.9,1851.8L1086.7,1854.7L1087.6,1857.6L1088.4,1860.5L1089.3,1863.4L1090.1,1866.3L1090.9,1869.2L1091.8,1872.1L1092.6,1875.0L1093.4,1877.9L1094.3,1880.8L1095.1,1883.7L1095.9,1886.6L1096.8,1889.5L1097.6,1892.4L1098.4,1895.3L1099.3,1898.2L1100.1,1901.1L1100.9,1904.0L1101.8,1906.9L1102.6,1909.8L1103.5,1912.7L1104.3,1915.6L1105.2,1918.5L1106.0,1921.4L1106.8,1924.3L1107.7,1927.2L1108.5,1930.1L1109.4,1933.0L1110.2,1935.9L1111.1,1938.8L1112.0,1941.7L1112.8,1944.6L1113.7,1947.4L1114.5,1950.3L1115.4,1953.2L1116.3,1956.1L1117.1,1959.0L1118.0,1961.9L1118.9,1964.8L1119.8,1967.6L1120.6,1970.5L1121.5,1973.4L1122.4,1976.3L1123.3,1979.1L1124.2,1982.0L1125.1,1984.9L1126.0,1987.8L1126.9,1990.6L1127.8,1993.5L1128.7,1996.3L1129.7,1999.2L1130.6,2002.1L1131.5,2004.9L1132.4,2007.8L1133.4,2010.6L1134.3,2013.5L1135.2,2016.3L1136.2,2019.2L1137.1,2022.0L1138.1,2024.9L1139.1,2027.7L1140.0,2030.6L1141.0,2033.4L1142.0,2036.2L1143.0,2039.1L1144.0,2041.9L1145.0,2044.7L1146.0,2047.5L1147.0,2050.4L1148.0,2053.2L1149.0,2056.0" fill="none" stroke="#000" stroke-width="7" stroke-linejoin="round" stroke-linecap="butt" clip-path="url(#cb)"/>
<path d="M272.0,2056.0L272.1,2053.0L272.3,2050.0L272.4,2047.0L272.5,2044.0L272.7,2040.9L272.8,2037.9L273.0,2034.9L273.1,2031.9L273.2,2028.9L273.4,2025.9L273.5,2022.9L273.7,2019.9L273.8,2016.9L274.0,2013.9L274.2,2010.8L274.3,2007.8L274.5,2004.8L274.6,2001.8L274.8,1998.8L275.0,1995.8L275.1,1992.8L275.3,1989.8L275.5,1986.8L275.6,1983.8L275.8,1980.7L276.0,1977.7L276.2,1974.7L276.4,1971.7L276.5,1968.7L276.7,1965.7L276.9,1962.7L277.1,1959.7L277.3,1956.7L277.5,1953.7L277.7,1950.7L277.9,1947.7L278.1,1944.6L278.3,1941.6L278.5,1938.6L278.7,1935.6L278.9,1932.6L279.1,1929.6L279.3,1926.6L279.6,1923.6L279.8,1920.6L280.0,1917.6L280.2,1914.6L280.5,1911.6L280.7,1908.6L280.9,1905.6L281.1,1902.6L281.4,1899.6L281.6,1896.6L281.9,1893.5L282.1,1890.5L282.3,1887.5L282.6,1884.5L282.8,1881.5L283.1,1878.5L283.4,1875.5L283.6,1872.5L283.9,1869.5L284.1,1866.5L284.4,1863.5L284.7,1860.5L284.9,1857.5L285.2,1854.5L285.5,1851.5L285.8,1848.5L286.0,1845.5L286.3,1842.5L286.6,1839.5L286.9,1836.5L287.2,1833.5L287.5,1830.5L287.8,1827.5L288.1,1824.5L288.4,1821.5L288.7,1818.5L289.0,1815.5L289.3,1812.5L289.6,1809.5L289.9,1806.5L290.3,1803.5L290.6,1800.6L290.9,1797.6L291.2,1794.6L291.6,1791.6L291.9,1788.6L292.2,1785.6L292.6,1782.6L292.9,1779.6L293.3,1776.6L293.6,1773.6L294.0,1770.6L294.3,1767.6L294.7,1764.6L295.0,1761.6L295.4,1758.7L295.8,1755.7L296.1,1752.7L296.5,1749.7L296.9,1746.7L297.2,1743.7L297.6,1740.7L298.0,1737.7L298.4,1734.8L298.8,1731.8L299.2,1728.8L299.6,1725.8L300.0,1722.8L300.4,1719.8L300.8,1716.8L301.2,1713.9L301.6,1710.9L302.0,1707.9L302.5,1704.9L302.9,1701.9L303.3,1699.0L303.7,1696.0L304.2,1693.0L304.6,1690.0L305.1,1687.0L305.5,1684.1L305.9,1681.1L306.4,1678.1L306.8,1675.1L307.3,1672.1L307.8,1669.2L308.2,1666.2L308.7,1663.2L309.2,1660.2L309.6,1657.3L310.1,1654.3L310.6,1651.3L311.1,1648.3L311.6,1645.4L312.1,1642.4L312.6,1639.4L313.1,1636.5L313.6,1633.5L314.1,1630.5L314.6,1627.6L315.1,1624.6L315.6,1621.6L316.1,1618.7L316.7,1615.7L317.2,1612.7L317.7,1609.8L318.3,1606.8L318.8,1603.8L319.4,1600.9L319.9,1597.9L320.5,1594.9L321.0,1592.0L321.6,1589.0L322.1,1586.1L322.7,1583.1L323.3,1580.1L323.9,1577.2L324.4,1574.2L325.0,1571.3L325.6,1568.3L326.2,1565.4L326.8,1562.4L327.4,1559.5L328.0,1556.5L328.6,1553.6L329.2,1550.6L329.8,1547.6L330.4,1544.7L331.1,1541.7L331.7,1538.8L332.3,1535.9L333.0,1532.9L333.6,1530.0L334.2,1527.0L334.9,1524.1L335.5,1521.1L336.2,1518.2L336.9,1515.2L337.5,1512.3L338.2,1509.3L338.9,1506.4L339.5,1503.5L340.2,1500.5L340.9,1497.6L341.6,1494.6L342.3,1491.7L343.0,1488.8L343.7,1485.8L344.4,1482.9L345.1,1480.0L345.8,1477.0L346.6,1474.1L347.3,1471.2L348.0,1468.2L348.8,1465.3L349.5,1462.4L350.3,1459.5L351.0,1456.5L351.8,1453.6L352.5,1450.7L353.3,1447.8L354.1,1444.9L354.9,1442.0L355.7,1439.0L356.5,1436.1L357.3,1433.2L358.2,1430.3L359.0,1427.4L359.8,1424.5L360.7,1421.6L361.6,1418.8L362.4,1415.9L363.3,1413.0L364.2,1410.1L365.1,1407.2L366.1,1404.4L367.0,1401.5L367.9,1398.6L368.9,1395.8L369.8,1392.9L370.8,1390.1L371.8,1387.2L372.8,1384.4L373.8,1381.6L374.9,1378.7L375.9,1375.9L377.0,1373.1L378.0,1370.3L379.1,1367.5L380.2,1364.7L381.3,1361.9L382.4,1359.1L383.6,1356.3L384.8,1353.5L386.0,1350.8L387.2,1348.0L388.5,1345.3L389.8,1342.6L391.1,1339.9L392.5,1337.3L393.9,1334.7L395.3,1332.1L396.8,1329.5L398.3,1326.9L399.9,1324.4L401.6,1321.9L403.2,1319.5L405.0,1317.1L406.8,1314.7L408.6,1312.3L410.5,1310.0L412.4,1307.7L414.4,1305.5L416.4,1303.2L418.4,1301.0L420.4,1298.8L422.5,1296.6L424.6,1294.5L426.7,1292.3L428.9,1290.2L431.1,1288.1L433.2,1285.9L435.4,1283.8L437.6,1281.7L439.8,1279.6L442.0,1277.5L444.2,1275.4L446.3,1273.3L448.5,1271.2L450.7,1269.1L452.8,1267.0L454.9,1264.8L457.0,1262.6L459.0,1260.5L461.0,1258.2L463.0,1256.0 M463.0,1256.0L463.0,1259.1L463.1,1262.2L463.2,1265.3L463.4,1268.4L463.6,1271.4L463.8,1274.5L464.1,1277.5L464.4,1280.5L464.8,1283.6L465.2,1286.6L465.7,1289.6L466.2,1292.5L466.7,1295.5L467.3,1298.5L467.9,1301.4L468.5,1304.3L469.2,1307.3L469.9,1310.2L470.6,1313.1L471.4,1316.0L472.2,1318.8L473.1,1321.7L473.9,1324.6L474.8,1327.4L475.8,1330.3L476.7,1333.1L477.7,1336.0L478.7,1338.8L479.8,1341.6L480.8,1344.4L481.9,1347.2L483.0,1350.0L484.2,1352.7L485.3,1355.5L486.5,1358.3L487.7,1361.0L488.9,1363.8L490.1,1366.5L491.4,1369.3L492.7,1372.0L493.9,1374.7L495.2,1377.5L496.6,1380.2L497.9,1382.9L499.2,1385.6L500.6,1388.3L502.0,1391.0L503.3,1393.7L504.7,1396.3L506.1,1399.0L507.5,1401.7L509.0,1404.4L510.4,1407.0L511.8,1409.7L513.2,1412.4L514.7,1415.0L516.1,1417.7L517.5,1420.4L519.0,1423.0L520.4,1425.7L521.8,1428.4L523.3,1431.0L524.7,1433.7L526.1,1436.4L527.5,1439.0L529.0,1441.7L530.4,1444.4L531.8,1447.1L533.2,1449.8L534.5,1452.4L535.9,1455.1L537.3,1457.8L538.6,1460.5L539.9,1463.3L541.3,1466.0L542.6,1468.7L543.8,1471.4L545.1,1474.2L546.4,1476.9L547.6,1479.7L548.8,1482.4L550.0,1485.2L551.2,1488.0L552.4,1490.8L553.5,1493.6L554.6,1496.3L555.8,1499.1L556.9,1502.0L558.0,1504.8L559.0,1507.6L560.1,1510.4L561.2,1513.2L562.2,1516.1L563.2,1518.9L564.2,1521.7L565.2,1524.6L566.2,1527.4L567.2,1530.3L568.2,1533.1L569.1,1536.0L570.1,1538.9L571.0,1541.7L572.0,1544.6L572.9,1547.4L573.8,1550.3L574.7,1553.2L575.6,1556.1L576.4,1559.0L577.3,1561.8L578.2,1564.7L579.0,1567.6L579.9,1570.5L580.7,1573.4L581.5,1576.3L582.3,1579.2L583.1,1582.1L583.9,1585.0L584.7,1587.9L585.5,1590.8L586.2,1593.7L587.0,1596.6L587.8,1599.5L588.5,1602.4L589.2,1605.4L590.0,1608.3L590.7,1611.2L591.4,1614.1L592.1,1617.1L592.8,1620.0L593.5,1622.9L594.1,1625.9L594.8,1628.8L595.5,1631.7L596.1,1634.7L596.8,1637.6L597.4,1640.6L598.1,1643.5L598.7,1646.4L599.3,1649.4L599.9,1652.3L600.5,1655.3L601.1,1658.3L601.7,1661.2L602.3,1664.2L602.9,1667.1L603.5,1670.1L604.0,1673.1L604.6,1676.0L605.2,1679.0L605.7,1682.0L606.3,1684.9L606.8,1687.9L607.3,1690.9L607.9,1693.8L608.4,1696.8L608.9,1699.8L609.4,1702.8L609.9,1705.7L610.4,1708.7L610.9,1711.7L611.4,1714.7L611.9,1717.7L612.4,1720.7L612.9,1723.6L613.3,1726.6L613.8,1729.6L614.3,1732.6L614.7,1735.6L615.2,1738.6L615.7,1741.6L616.1,1744.6L616.5,1747.6L617.0,1750.6L617.4,1753.6L617.9,1756.6L618.3,1759.6L618.7,1762.6L619.1,1765.6L619.6,1768.6L620.0,1771.6L620.4,1774.6L620.8,1777.6L621.2,1780.6L621.6,1783.6L622.0,1786.6L622.4,1789.6L622.8,1792.6L623.2,1795.6L623.6,1798.6L624.0,1801.6L624.4,1804.6L624.8,1807.6L625.2,1810.6L625.6,1813.6L625.9,1816.7L626.3,1819.7L626.7,1822.7L627.1,1825.7L627.4,1828.7L627.8,1831.7L628.2,1834.7L628.6,1837.7L628.9,1840.7L629.3,1843.7L629.7,1846.8L630.1,1849.8L630.4,1852.8L630.8,1855.8L631.2,1858.8L631.5,1861.8L631.9,1864.8L632.3,1867.8L632.6,1870.8L633.0,1873.9L633.4,1876.9L633.7,1879.9L634.1,1882.9L634.5,1885.9L634.8,1888.9L635.2,1891.9L635.6,1894.9L635.9,1897.9L636.3,1900.9L636.7,1903.9L637.0,1906.9L637.4,1909.9L637.8,1913.0L638.2,1916.0L638.5,1919.0L638.9,1922.0L639.3,1925.0L639.7,1928.0L640.1,1931.0L640.5,1934.0L640.8,1937.0L641.2,1940.0L641.6,1943.0L642.0,1946.0L642.4,1949.0L642.8,1952.0L643.2,1954.9L643.6,1957.9L644.0,1960.9L644.4,1963.9L644.9,1966.9L645.3,1969.9L645.7,1972.9L646.1,1975.9L646.5,1978.9L647.0,1981.8L647.4,1984.8L647.8,1987.8L648.3,1990.8L648.7,1993.8L649.2,1996.8L649.6,1999.7L650.1,2002.7L650.5,2005.7L651.0,2008.7L651.4,2011.6L651.9,2014.6L652.4,2017.6L652.9,2020.5L653.3,2023.5L653.8,2026.5L654.3,2029.4L654.8,2032.4L655.3,2035.3L655.8,2038.3L656.4,2041.2L656.9,2044.2L657.4,2047.2L657.9,2050.1L658.5,2053.1L659.0,2056.0" fill="none" stroke="#ff0000" stroke-width="7" stroke-linejoin="round" stroke-linecap="butt" clip-path="url(#cb)"/>
<path d="M272.5,2056.0L272.5,2053.0L272.5,2050.0L272.5,2046.9L272.6,2043.9L272.6,2040.9L272.6,2037.9L272.6,2034.9L272.7,2031.8L272.7,2028.8L272.7,2025.8L272.7,2022.8L272.8,2019.8L272.8,2016.8L272.8,2013.7L272.9,2010.7L272.9,2007.7L272.9,2004.7L273.0,2001.7L273.0,1998.7L273.1,1995.6L273.1,1992.6L273.2,1989.6L273.2,1986.6L273.3,1983.6L273.3,1980.6L273.4,1977.5L273.4,1974.5L273.5,1971.5L273.5,1968.5L273.6,1965.5L273.6,1962.5L273.7,1959.5L273.8,1956.4L273.8,1953.4L273.9,1950.4L274.0,1947.4L274.0,1944.4L274.1,1941.4L274.2,1938.4L274.3,1935.4L274.3,1932.3L274.4,1929.3L274.5,1926.3L274.6,1923.3L274.6,1920.3L274.7,1917.3L274.8,1914.3L274.9,1911.3L275.0,1908.3L275.1,1905.2L275.2,1902.2L275.3,1899.2L275.4,1896.2L275.4,1893.2L275.5,1890.2L275.6,1887.2L275.7,1884.2L275.8,1881.2L275.9,1878.2L276.0,1875.1L276.2,1872.1L276.3,1869.1L276.4,1866.1L276.5,1863.1L276.6,1860.1L276.7,1857.1L276.8,1854.1L276.9,1851.1L277.1,1848.1L277.2,1845.1L277.3,1842.0L277.4,1839.0L277.5,1836.0L277.7,1833.0L277.8,1830.0L277.9,1827.0L278.0,1824.0L278.2,1821.0L278.3,1818.0L278.4,1815.0L278.6,1812.0L278.7,1809.0L278.8,1806.0L279.0,1802.9L279.1,1799.9L279.3,1796.9L279.4,1793.9L279.6,1790.9L279.7,1787.9L279.8,1784.9L280.0,1781.9L280.1,1778.9L280.3,1775.9L280.5,1772.9L280.6,1769.9L280.8,1766.9L280.9,1763.9L281.1,1760.9L281.2,1757.8L281.4,1754.8L281.6,1751.8L281.7,1748.8L281.9,1745.8L282.1,1742.8L282.2,1739.8L282.4,1736.8L282.6,1733.8L282.7,1730.8L282.9,1727.8L283.1,1724.8L283.3,1721.8L283.5,1718.8L283.6,1715.8L283.8,1712.7L284.0,1709.7L284.2,1706.7L284.4,1703.7L284.6,1700.7L284.7,1697.7L284.9,1694.7L285.1,1691.7L285.3,1688.7L285.5,1685.7L285.7,1682.7L285.9,1679.7L286.1,1676.7L286.3,1673.7L286.5,1670.7L286.7,1667.6L286.9,1664.6L287.1,1661.6L287.3,1658.6L287.5,1655.6L287.7,1652.6L287.9,1649.6L288.2,1646.6L288.4,1643.6L288.6,1640.6L288.8,1637.6L289.0,1634.6L289.2,1631.6L289.5,1628.5L289.7,1625.5L289.9,1622.5L290.1,1619.5L290.3,1616.5L290.6,1613.5L290.8,1610.5L291.0,1607.5L291.3,1604.5L291.5,1601.5L291.7,1598.5L292.0,1595.5L292.2,1592.4L292.4,1589.4L292.7,1586.4L292.9,1583.4L293.2,1580.4L293.4,1577.4L293.7,1574.4L293.9,1571.4L294.2,1568.4L294.4,1565.4L294.7,1562.4L294.9,1559.4L295.2,1556.3L295.5,1553.3L295.7,1550.3L296.0,1547.3L296.3,1544.3L296.6,1541.3L296.8,1538.3L297.1,1535.3L297.4,1532.3L297.7,1529.3L298.0,1526.3L298.3,1523.3L298.6,1520.3L298.9,1517.3L299.2,1514.3L299.5,1511.3L299.8,1508.3L300.1,1505.3L300.4,1502.3L300.8,1499.3L301.1,1496.3L301.4,1493.3L301.8,1490.3L302.1,1487.3L302.4,1484.3L302.8,1481.3L303.2,1478.3L303.5,1475.3L303.9,1472.3L304.2,1469.3L304.6,1466.3L305.0,1463.3L305.4,1460.4L305.8,1457.4L306.1,1454.4L306.5,1451.4L306.9,1448.4L307.3,1445.4L307.8,1442.4L308.2,1439.5L308.6,1436.5L309.0,1433.5L309.5,1430.5L309.9,1427.5L310.3,1424.6L310.8,1421.6L311.2,1418.6L311.7,1415.6L312.2,1412.7L312.7,1409.7L313.1,1406.7L313.6,1403.8L314.1,1400.8L314.6,1397.8L315.1,1394.9L315.6,1391.9L316.1,1388.9L316.7,1386.0L317.2,1383.0L317.7,1380.1L318.3,1377.1L318.8,1374.2L319.4,1371.2L320.0,1368.2L320.5,1365.3L321.1,1362.4L321.7,1359.4L322.3,1356.5L322.9,1353.5L323.5,1350.6L324.2,1347.7L324.8,1344.7L325.5,1341.8L326.1,1338.9L326.8,1335.9L327.5,1333.0L328.2,1330.1L328.9,1327.2L329.7,1324.3L330.4,1321.4L331.2,1318.5L331.9,1315.6L332.7,1312.7L333.5,1309.8L334.4,1306.9L335.2,1304.0L336.1,1301.2L336.9,1298.3L337.8,1295.4L338.7,1292.6L339.7,1289.7L340.6,1286.9L341.6,1284.0L342.6,1281.2L343.6,1278.4L344.6,1275.6L345.7,1272.7L346.8,1269.9L347.9,1267.1L349.0,1264.3L350.1,1261.6L351.3,1258.8L352.5,1256.0 M353.0,1256.0L353.0,1259.0L353.0,1262.1L353.0,1265.1L353.0,1268.1L353.0,1271.1L353.1,1274.1L353.2,1277.2L353.3,1280.2L353.4,1283.2L353.5,1286.2L353.6,1289.2L353.8,1292.2L354.0,1295.2L354.1,1298.3L354.3,1301.3L354.5,1304.3L354.8,1307.3L355.0,1310.3L355.2,1313.3L355.5,1316.3L355.8,1319.3L356.0,1322.3L356.3,1325.2L356.6,1328.2L356.9,1331.2L357.3,1334.2L357.6,1337.2L358.0,1340.2L358.3,1343.2L358.7,1346.2L359.1,1349.2L359.5,1352.1L359.9,1355.1L360.3,1358.1L360.7,1361.1L361.1,1364.1L361.5,1367.0L362.0,1370.0L362.4,1373.0L362.9,1376.0L363.3,1379.0L363.8,1381.9L364.3,1384.9L364.8,1387.9L365.3,1390.8L365.8,1393.8L366.3,1396.8L366.8,1399.8L367.3,1402.7L367.8,1405.7L368.3,1408.7L368.9,1411.6L369.4,1414.6L369.9,1417.6L370.5,1420.5L371.0,1423.5L371.6,1426.5L372.1,1429.4L372.7,1432.4L373.2,1435.4L373.8,1438.3L374.3,1441.3L374.9,1444.3L375.5,1447.2L376.0,1450.2L376.6,1453.2L377.2,1456.1L377.7,1459.1L378.3,1462.1L378.9,1465.0L379.4,1468.0L380.0,1471.0L380.6,1473.9L381.2,1476.9L381.7,1479.8L382.3,1482.8L382.9,1485.8L383.4,1488.7L384.0,1491.7L384.5,1494.7L385.1,1497.6L385.7,1500.6L386.2,1503.6L386.8,1506.5L387.3,1509.5L387.8,1512.5L388.4,1515.5L388.9,1518.4L389.5,1521.4L390.0,1524.4L390.5,1527.3L391.0,1530.3L391.5,1533.3L392.0,1536.3L392.5,1539.2L393.0,1542.2L393.5,1545.2L394.0,1548.2L394.5,1551.1L394.9,1554.1L395.4,1557.1L395.9,1560.1L396.3,1563.1L396.8,1566.0L397.2,1569.0L397.7,1572.0L398.1,1575.0L398.6,1578.0L399.0,1580.9L399.4,1583.9L399.8,1586.9L400.3,1589.9L400.7,1592.9L401.1,1595.9L401.5,1598.9L401.9,1601.8L402.3,1604.8L402.7,1607.8L403.1,1610.8L403.5,1613.8L403.8,1616.8L404.2,1619.8L404.6,1622.8L404.9,1625.8L405.3,1628.7L405.7,1631.7L406.0,1634.7L406.4,1637.7L406.7,1640.7L407.1,1643.7L407.4,1646.7L407.7,1649.7L408.1,1652.7L408.4,1655.7L408.7,1658.7L409.1,1661.7L409.4,1664.7L409.7,1667.7L410.0,1670.7L410.3,1673.7L410.6,1676.7L410.9,1679.7L411.2,1682.7L411.5,1685.7L411.8,1688.7L412.1,1691.7L412.4,1694.7L412.7,1697.7L412.9,1700.7L413.2,1703.7L413.5,1706.7L413.8,1709.7L414.0,1712.7L414.3,1715.7L414.6,1718.7L414.8,1721.7L415.1,1724.7L415.3,1727.7L415.6,1730.7L415.8,1733.7L416.1,1736.7L416.3,1739.7L416.6,1742.7L416.8,1745.8L417.0,1748.8L417.3,1751.8L417.5,1754.8L417.7,1757.8L418.0,1760.8L418.2,1763.8L418.4,1766.8L418.6,1769.8L418.8,1772.8L419.1,1775.8L419.3,1778.8L419.5,1781.9L419.7,1784.9L419.9,1787.9L420.1,1790.9L420.3,1793.9L420.5,1796.9L420.7,1799.9L420.9,1802.9L421.1,1805.9L421.3,1809.0L421.5,1812.0L421.7,1815.0L421.9,1818.0L422.1,1821.0L422.3,1824.0L422.5,1827.0L422.6,1830.0L422.8,1833.1L423.0,1836.1L423.2,1839.1L423.4,1842.1L423.6,1845.1L423.7,1848.1L423.9,1851.1L424.1,1854.1L424.3,1857.2L424.4,1860.2L424.6,1863.2L424.8,1866.2L425.0,1869.2L425.1,1872.2L425.3,1875.2L425.5,1878.3L425.6,1881.3L425.8,1884.3L426.0,1887.3L426.1,1890.3L426.3,1893.3L426.5,1896.3L426.6,1899.4L426.8,1902.4L427.0,1905.4L427.1,1908.4L427.3,1911.4L427.5,1914.4L427.6,1917.4L427.8,1920.5L428.0,1923.5L428.1,1926.5L428.3,1929.5L428.4,1932.5L428.6,1935.5L428.8,1938.5L428.9,1941.6L429.1,1944.6L429.3,1947.6L429.4,1950.6L429.6,1953.6L429.8,1956.6L429.9,1959.6L430.1,1962.7L430.2,1965.7L430.4,1968.7L430.6,1971.7L430.7,1974.7L430.9,1977.7L431.1,1980.7L431.3,1983.7L431.4,1986.8L431.6,1989.8L431.8,1992.8L431.9,1995.8L432.1,1998.8L432.3,2001.8L432.5,2004.8L432.6,2007.8L432.8,2010.9L433.0,2013.9L433.2,2016.9L433.3,2019.9L433.5,2022.9L433.7,2025.9L433.9,2028.9L434.1,2031.9L434.3,2034.9L434.4,2037.9L434.6,2041.0L434.8,2044.0L435.0,2047.0L435.2,2050.0L435.4,2053.0L435.6,2056.0" fill="none" stroke="#00ff00" stroke-width="7" stroke-linejoin="round" stroke-linecap="butt" clip-path="url(#cb)"/>
<path d="M272.3,2056.0L272.3,2053.0L272.3,2050.0L272.3,2047.0L272.3,2044.0L272.3,2041.0L272.2,2037.9L272.2,2034.9L272.2,2031.9L272.2,2028.9L272.2,2025.9L272.2,2022.9L272.2,2019.9L272.2,2016.9L272.2,2013.9L272.2,2010.9L272.2,2007.8L272.2,2004.8L272.2,2001.8L272.2,1998.8L272.2,1995.8L272.1,1992.8L272.1,1989.8L272.1,1986.8L272.1,1983.8L272.1,1980.7L272.1,1977.7L272.1,1974.7L272.1,1971.7L272.1,1968.7L272.1,1965.7L272.1,1962.7L272.1,1959.7L272.1,1956.7L272.1,1953.6L272.1,1950.6L272.2,1947.6L272.2,1944.6L272.2,1941.6L272.2,1938.6L272.2,1935.6L272.2,1932.6L272.2,1929.6L272.2,1926.5L272.2,1923.5L272.2,1920.5L272.2,1917.5L272.2,1914.5L272.2,1911.5L272.3,1908.5L272.3,1905.5L272.3,1902.5L272.3,1899.4L272.3,1896.4L272.3,1893.4L272.3,1890.4L272.4,1887.4L272.4,1884.4L272.4,1881.4L272.4,1878.4L272.4,1875.3L272.4,1872.3L272.5,1869.3L272.5,1866.3L272.5,1863.3L272.5,1860.3L272.6,1857.3L272.6,1854.3L272.6,1851.2L272.6,1848.2L272.7,1845.2L272.7,1842.2L272.7,1839.2L272.7,1836.2L272.8,1833.2L272.8,1830.2L272.8,1827.2L272.9,1824.1L272.9,1821.1L272.9,1818.1L273.0,1815.1L273.0,1812.1L273.0,1809.1L273.1,1806.1L273.1,1803.1L273.2,1800.0L273.2,1797.0L273.2,1794.0L273.3,1791.0L273.3,1788.0L273.4,1785.0L273.4,1782.0L273.5,1779.0L273.5,1775.9L273.6,1772.9L273.6,1769.9L273.7,1766.9L273.7,1763.9L273.8,1760.9L273.8,1757.9L273.9,1754.9L273.9,1751.9L274.0,1748.8L274.0,1745.8L274.1,1742.8L274.1,1739.8L274.2,1736.8L274.3,1733.8L274.3,1730.8L274.4,1727.8L274.5,1724.8L274.5,1721.7L274.6,1718.7L274.7,1715.7L274.7,1712.7L274.8,1709.7L274.9,1706.7L274.9,1703.7L275.0,1700.7L275.1,1697.7L275.2,1694.6L275.3,1691.6L275.3,1688.6L275.4,1685.6L275.5,1682.6L275.6,1679.6L275.7,1676.6L275.7,1673.6L275.8,1670.6L275.9,1667.5L276.0,1664.5L276.1,1661.5L276.2,1658.5L276.3,1655.5L276.4,1652.5L276.5,1649.5L276.6,1646.5L276.7,1643.5L276.8,1640.5L276.9,1637.4L277.0,1634.4L277.1,1631.4L277.2,1628.4L277.3,1625.4L277.4,1622.4L277.5,1619.4L277.6,1616.4L277.7,1613.4L277.8,1610.4L277.9,1607.3L278.0,1604.3L278.2,1601.3L278.3,1598.3L278.4,1595.3L278.5,1592.3L278.6,1589.3L278.8,1586.3L278.9,1583.3L279.0,1580.3L279.1,1577.3L279.3,1574.2L279.4,1571.2L279.5,1568.2L279.7,1565.2L279.8,1562.2L279.9,1559.2L280.1,1556.2L280.2,1553.2L280.4,1550.2L280.5,1547.2L280.7,1544.2L280.8,1541.2L281.0,1538.2L281.1,1535.1L281.3,1532.1L281.4,1529.1L281.6,1526.1L281.7,1523.1L281.9,1520.1L282.0,1517.1L282.2,1514.1L282.4,1511.1L282.5,1508.1L282.7,1505.1L282.9,1502.1L283.0,1499.1L283.2,1496.1L283.4,1493.1L283.5,1490.0L283.7,1487.0L283.9,1484.0L284.1,1481.0L284.3,1478.0L284.4,1475.0L284.6,1472.0L284.8,1469.0L285.0,1466.0L285.2,1463.0L285.4,1460.0L285.6,1457.0L285.8,1454.0L286.0,1451.0L286.2,1448.0L286.4,1445.0L286.6,1442.0L286.8,1439.0L287.0,1436.0L287.2,1433.0L287.4,1430.0L287.6,1426.9L287.8,1423.9L288.0,1420.9L288.3,1417.9L288.5,1414.9L288.7,1411.9L288.9,1408.9L289.1,1405.9L289.4,1402.9L289.6,1399.9L289.8,1396.9L290.1,1393.9L290.3,1390.9L290.5,1387.9L290.8,1384.9L291.0,1381.9L291.3,1378.9L291.5,1375.9L291.7,1372.9L292.0,1369.9L292.2,1366.9L292.5,1363.9L292.8,1360.9L293.0,1357.9L293.3,1354.9L293.5,1351.9L293.8,1348.9L294.1,1345.9L294.3,1342.9L294.6,1339.9L294.9,1336.9L295.1,1333.9L295.4,1330.9L295.7,1327.9L296.0,1324.9L296.3,1321.9L296.5,1318.9L296.8,1315.9L297.1,1312.9L297.4,1309.9L297.7,1306.9L298.0,1303.9L298.3,1300.9L298.6,1297.9L298.9,1294.9L299.2,1291.9L299.5,1288.9L299.8,1286.0L300.1,1283.0L300.4,1280.0L300.7,1277.0L301.1,1274.0L301.4,1271.0L301.7,1268.0L302.0,1265.0L302.3,1262.0L302.7,1259.0L303.0,1256.0 M303.0,1256.0L303.0,1259.0L303.1,1262.0L303.2,1265.1L303.2,1268.1L303.3,1271.1L303.4,1274.1L303.4,1277.2L303.5,1280.2L303.6,1283.2L303.7,1286.2L303.8,1289.2L303.8,1292.3L303.9,1295.3L304.0,1298.3L304.1,1301.3L304.2,1304.3L304.3,1307.4L304.4,1310.4L304.5,1313.4L304.6,1316.4L304.7,1319.4L304.8,1322.5L304.9,1325.5L305.1,1328.5L305.2,1331.5L305.3,1334.5L305.4,1337.6L305.5,1340.6L305.6,1343.6L305.8,1346.6L305.9,1349.6L306.0,1352.6L306.2,1355.7L306.3,1358.7L306.4,1361.7L306.6,1364.7L306.7,1367.7L306.8,1370.8L307.0,1373.8L307.1,1376.8L307.3,1379.8L307.4,1382.8L307.6,1385.8L307.7,1388.9L307.9,1391.9L308.0,1394.9L308.2,1397.9L308.3,1400.9L308.5,1403.9L308.7,1407.0L308.8,1410.0L309.0,1413.0L309.1,1416.0L309.3,1419.0L309.5,1422.1L309.6,1425.1L309.8,1428.1L310.0,1431.1L310.1,1434.1L310.3,1437.1L310.5,1440.2L310.7,1443.2L310.8,1446.2L311.0,1449.2L311.2,1452.2L311.4,1455.2L311.5,1458.3L311.7,1461.3L311.9,1464.3L312.1,1467.3L312.3,1470.3L312.4,1473.3L312.6,1476.3L312.8,1479.4L313.0,1482.4L313.2,1485.4L313.4,1488.4L313.6,1491.4L313.7,1494.4L313.9,1497.5L314.1,1500.5L314.3,1503.5L314.5,1506.5L314.7,1509.5L314.9,1512.5L315.1,1515.6L315.2,1518.6L315.4,1521.6L315.6,1524.6L315.8,1527.6L316.0,1530.6L316.2,1533.7L316.4,1536.7L316.6,1539.7L316.8,1542.7L317.0,1545.7L317.2,1548.7L317.3,1551.7L317.5,1554.8L317.7,1557.8L317.9,1560.8L318.1,1563.8L318.3,1566.8L318.5,1569.8L318.7,1572.9L318.9,1575.9L319.1,1578.9L319.2,1581.9L319.4,1584.9L319.6,1587.9L319.8,1591.0L320.0,1594.0L320.2,1597.0L320.4,1600.0L320.6,1603.0L320.7,1606.0L320.9,1609.1L321.1,1612.1L321.3,1615.1L321.5,1618.1L321.7,1621.1L321.8,1624.1L322.0,1627.2L322.2,1630.2L322.4,1633.2L322.5,1636.2L322.7,1639.2L322.9,1642.2L323.1,1645.3L323.2,1648.3L323.4,1651.3L323.6,1654.3L323.8,1657.3L323.9,1660.3L324.1,1663.4L324.3,1666.4L324.4,1669.4L324.6,1672.4L324.8,1675.4L324.9,1678.4L325.1,1681.5L325.2,1684.5L325.4,1687.5L325.6,1690.5L325.7,1693.5L325.9,1696.5L326.0,1699.6L326.2,1702.6L326.3,1705.6L326.5,1708.6L326.6,1711.6L326.8,1714.7L326.9,1717.7L327.1,1720.7L327.2,1723.7L327.4,1726.7L327.5,1729.7L327.6,1732.8L327.8,1735.8L327.9,1738.8L328.1,1741.8L328.2,1744.8L328.3,1747.9L328.5,1750.9L328.6,1753.9L328.7,1756.9L328.9,1759.9L329.0,1763.0L329.1,1766.0L329.3,1769.0L329.4,1772.0L329.5,1775.0L329.6,1778.0L329.8,1781.1L329.9,1784.1L330.0,1787.1L330.1,1790.1L330.3,1793.1L330.4,1796.2L330.5,1799.2L330.6,1802.2L330.7,1805.2L330.8,1808.2L331.0,1811.3L331.1,1814.3L331.2,1817.3L331.3,1820.3L331.4,1823.3L331.5,1826.4L331.6,1829.4L331.7,1832.4L331.8,1835.4L332.0,1838.4L332.1,1841.5L332.2,1844.5L332.3,1847.5L332.4,1850.5L332.5,1853.5L332.6,1856.6L332.7,1859.6L332.8,1862.6L332.9,1865.6L333.0,1868.7L333.1,1871.7L333.2,1874.7L333.3,1877.7L333.4,1880.7L333.5,1883.8L333.6,1886.8L333.6,1889.8L333.7,1892.8L333.8,1895.8L333.9,1898.9L334.0,1901.9L334.1,1904.9L334.2,1907.9L334.3,1910.9L334.4,1914.0L334.5,1917.0L334.5,1920.0L334.6,1923.0L334.7,1926.1L334.8,1929.1L334.9,1932.1L335.0,1935.1L335.0,1938.1L335.1,1941.2L335.2,1944.2L335.3,1947.2L335.4,1950.2L335.4,1953.2L335.5,1956.3L335.6,1959.3L335.7,1962.3L335.8,1965.3L335.8,1968.4L335.9,1971.4L336.0,1974.4L336.1,1977.4L336.1,1980.4L336.2,1983.5L336.3,1986.5L336.3,1989.5L336.4,1992.5L336.5,1995.6L336.6,1998.6L336.6,2001.6L336.7,2004.6L336.8,2007.6L336.8,2010.7L336.9,2013.7L337.0,2016.7L337.0,2019.7L337.1,2022.8L337.2,2025.8L337.2,2028.8L337.3,2031.8L337.4,2034.8L337.4,2037.9L337.5,2040.9L337.5,2043.9L337.6,2046.9L337.7,2050.0L337.7,2053.0L337.8,2056.0" fill="none" stroke="#0000ff" stroke-width="7" stroke-linejoin="round" stroke-linecap="butt" clip-path="url(#cb)"/>
</g>
<text class="bt" x="18" y="82" font-size="121">a</text>
<text class="bt" x="13.5" y="1272" font-size="126">b</text>
<text class="bt" x="804.5" y="1024" font-size="63" text-anchor="middle">Potential<tspan font-weight="normal">(</tspan>V<tspan font-weight="normal">)</tspan></text>
<text class="bt" transform="translate(134.5,513.6) rotate(-90)" font-size="63" text-anchor="middle">Current<tspan font-weight="normal">(</tspan>A<tspan font-weight="normal">)</tspan></text>
<text class="bt" transform="translate(128,1628.3) rotate(-90)" font-size="63" text-anchor="middle">Potential<tspan font-weight="normal">(</tspan>V<tspan font-weight="normal">)</tspan></text>
<text class="bt" x="807.5" y="2209" font-size="64" text-anchor="middle">Time<tspan font-weight="normal">(</tspan>s<tspan font-weight="normal">)</tspan></text>
<rect x="278" y="79" width="338" height="280" fill="#fff" stroke="#000" stroke-width="2"/>
<line x1="296.5" y1="127" x2="393.5" y2="127" stroke="#000" stroke-width="7" stroke-linecap="round"/>
<text x="407.5" y="142" font-size="44"><tspan>(</tspan><tspan class="bt">5mV </tspan><tspan class="bt" dx="0">s</tspan><tspan class="bt" font-size="29" dy="-22">-1</tspan><tspan dy="22">)</tspan></text>
<line x1="296.5" y1="191.4" x2="393.5" y2="191.4" stroke="#ff0000" stroke-width="7" stroke-linecap="round"/>
<text x="407.5" y="206.4" font-size="44"><tspan>(</tspan><tspan class="bt">10mV </tspan><tspan class="bt" dx="0">s</tspan><tspan class="bt" font-size="29" dy="-22">-1</tspan><tspan dy="22">)</tspan></text>
<line x1="296.5" y1="256" x2="393.5" y2="256" stroke="#00ff00" stroke-width="7" stroke-linecap="round"/>
<text x="407.5" y="271" font-size="44"><tspan>(</tspan><tspan class="bt">25mV </tspan><tspan class="bt" dx="0">s</tspan><tspan class="bt" font-size="29" dy="-22">-1</tspan><tspan dy="22">)</tspan></text>
<line x1="296.5" y1="320.5" x2="393.5" y2="320.5" stroke="#0000ff" stroke-width="7" stroke-linecap="round"/>
<text x="407.5" y="335.5" font-size="44"><tspan>(</tspan><tspan class="bt">50mV </tspan><tspan class="bt" dx="0">s</tspan><tspan class="bt" font-size="29" dy="-22">-1</tspan><tspan dy="22">)</tspan></text>
<rect x="1014" y="1265.5" width="323.5" height="280.5" fill="#fff" stroke="#000" stroke-width="2"/>
<line x1="1031" y1="1310" x2="1132" y2="1310" stroke="#000" stroke-width="7" stroke-linecap="round"/>
<text x="1146.5" y="1326" font-size="44"><tspan>(</tspan><tspan class="bt">2.5A </tspan><tspan class="bt" dx="5">g</tspan><tspan class="bt" font-size="29" dy="-24">-1</tspan><tspan dy="24">)</tspan></text>
<line x1="1031" y1="1377" x2="1132" y2="1377" stroke="#ff0000" stroke-width="7" stroke-linecap="round"/>
<text x="1146.5" y="1393" font-size="44"><tspan>(</tspan><tspan class="bt">5A </tspan><tspan class="bt" dx="5">g</tspan><tspan class="bt" font-size="29" dy="-24">-1</tspan><tspan dy="24">)</tspan></text>
<line x1="1031" y1="1443" x2="1132" y2="1443" stroke="#00ff00" stroke-width="7" stroke-linecap="round"/>
<text x="1146.5" y="1459" font-size="44"><tspan>(</tspan><tspan class="bt">10A </tspan><tspan class="bt" dx="5">g</tspan><tspan class="bt" font-size="29" dy="-24">-1</tspan><tspan dy="24">)</tspan></text>
<line x1="1031" y1="1510" x2="1132" y2="1510" stroke="#0000ff" stroke-width="7" stroke-linecap="round"/>
<text x="1146.5" y="1526" font-size="44"><tspan>(</tspan><tspan class="bt">20A </tspan><tspan class="bt" dx="5">g</tspan><tspan class="bt" font-size="29" dy="-24">-1</tspan><tspan dy="24">)</tspan></text>
</svg>
</body></html>
